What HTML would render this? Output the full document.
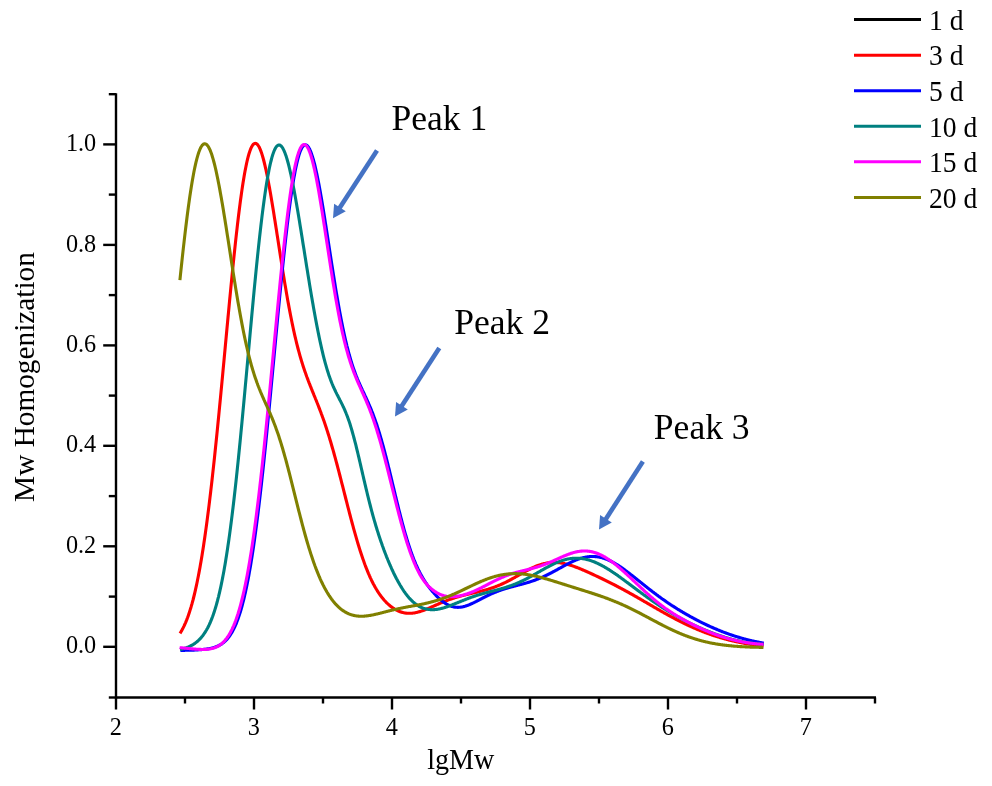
<!DOCTYPE html>
<html><head><meta charset="utf-8"><style>
html,body{margin:0;padding:0;background:#fff;width:992px;height:786px;overflow:hidden}
svg{display:block;will-change:transform}
text{font-family:"Liberation Serif",serif;fill:#000}
.tk{font-size:24.5px}
.lg{font-size:29px}
.pk{font-size:35.6px}
.tt{font-size:29px}
.yt{font-size:29.3px}
</style></head><body>
<svg width="992" height="786" viewBox="0 0 992 786">
<rect width="992" height="786" fill="#fff"/>
<line x1="116.0" y1="93.15999999999997" x2="116.0" y2="698.5" stroke="#000" stroke-width="2.4"/><line x1="115.0" y1="697.5" x2="876.0" y2="697.5" stroke="#000" stroke-width="2.4"/><line x1="108.8" y1="697.5" x2="116.0" y2="697.5" stroke="#000" stroke-width="2.4"/><line x1="103.2" y1="646.8" x2="116.0" y2="646.8" stroke="#000" stroke-width="2.4"/><line x1="108.8" y1="596.6" x2="116.0" y2="596.6" stroke="#000" stroke-width="2.4"/><line x1="103.2" y1="546.3" x2="116.0" y2="546.3" stroke="#000" stroke-width="2.4"/><line x1="108.8" y1="496.1" x2="116.0" y2="496.1" stroke="#000" stroke-width="2.4"/><line x1="103.2" y1="445.8" x2="116.0" y2="445.8" stroke="#000" stroke-width="2.4"/><line x1="108.8" y1="395.6" x2="116.0" y2="395.6" stroke="#000" stroke-width="2.4"/><line x1="103.2" y1="345.4" x2="116.0" y2="345.4" stroke="#000" stroke-width="2.4"/><line x1="108.8" y1="295.1" x2="116.0" y2="295.1" stroke="#000" stroke-width="2.4"/><line x1="103.2" y1="244.9" x2="116.0" y2="244.9" stroke="#000" stroke-width="2.4"/><line x1="108.8" y1="194.6" x2="116.0" y2="194.6" stroke="#000" stroke-width="2.4"/><line x1="103.2" y1="144.4" x2="116.0" y2="144.4" stroke="#000" stroke-width="2.4"/><line x1="108.8" y1="94.2" x2="116.0" y2="94.2" stroke="#000" stroke-width="2.4"/><line x1="116.0" y1="697.5" x2="116.0" y2="709.5" stroke="#000" stroke-width="2.4"/><line x1="185.0" y1="697.5" x2="185.0" y2="703.5" stroke="#000" stroke-width="2.4"/><line x1="254.0" y1="697.5" x2="254.0" y2="709.5" stroke="#000" stroke-width="2.4"/><line x1="323.0" y1="697.5" x2="323.0" y2="703.5" stroke="#000" stroke-width="2.4"/><line x1="392.0" y1="697.5" x2="392.0" y2="709.5" stroke="#000" stroke-width="2.4"/><line x1="461.0" y1="697.5" x2="461.0" y2="703.5" stroke="#000" stroke-width="2.4"/><line x1="530.0" y1="697.5" x2="530.0" y2="709.5" stroke="#000" stroke-width="2.4"/><line x1="599.0" y1="697.5" x2="599.0" y2="703.5" stroke="#000" stroke-width="2.4"/><line x1="668.0" y1="697.5" x2="668.0" y2="709.5" stroke="#000" stroke-width="2.4"/><line x1="737.0" y1="697.5" x2="737.0" y2="703.5" stroke="#000" stroke-width="2.4"/><line x1="806.0" y1="697.5" x2="806.0" y2="709.5" stroke="#000" stroke-width="2.4"/><line x1="875.0" y1="697.5" x2="875.0" y2="703.5" stroke="#000" stroke-width="2.4"/>
<text transform="translate(96.2,653.4) scale(0.99,1.0)" text-anchor="end" class="tk">0.0</text><text transform="translate(96.2,552.9) scale(0.99,1.0)" text-anchor="end" class="tk">0.2</text><text transform="translate(96.2,452.4) scale(0.99,1.0)" text-anchor="end" class="tk">0.4</text><text transform="translate(96.2,352.0) scale(0.99,1.0)" text-anchor="end" class="tk">0.6</text><text transform="translate(96.2,251.5) scale(0.99,1.0)" text-anchor="end" class="tk">0.8</text><text transform="translate(96.2,151.0) scale(0.99,1.0)" text-anchor="end" class="tk">1.0</text><text transform="translate(115.8,735.3) scale(0.99,1.0)" text-anchor="middle" class="tk">2</text><text transform="translate(253.8,735.3) scale(0.99,1.0)" text-anchor="middle" class="tk">3</text><text transform="translate(391.8,735.3) scale(0.99,1.0)" text-anchor="middle" class="tk">4</text><text transform="translate(529.8,735.3) scale(0.99,1.0)" text-anchor="middle" class="tk">5</text><text transform="translate(667.8,735.3) scale(0.99,1.0)" text-anchor="middle" class="tk">6</text><text transform="translate(805.8,735.3) scale(0.99,1.0)" text-anchor="middle" class="tk">7</text>
<path d="M180.0,633.4 L180.5,632.6 L181.0,631.7 L181.5,630.9 L182.0,630.0 L182.5,629.1 L183.0,628.1 L183.5,627.1 L184.0,626.1 L184.5,625.0 L185.0,623.9 L185.5,622.8 L186.0,621.6 L186.5,620.4 L187.0,619.1 L187.5,617.8 L188.0,616.4 L188.5,615.0 L189.0,613.5 L189.5,612.0 L190.0,610.4 L190.5,608.8 L191.0,607.2 L191.5,605.4 L192.0,603.7 L192.5,601.8 L193.0,600.0 L193.5,598.0 L194.0,596.0 L194.5,594.0 L195.0,591.8 L195.5,589.7 L196.0,587.4 L196.5,585.1 L197.0,582.7 L197.5,580.3 L198.0,577.8 L198.5,575.3 L199.0,572.6 L199.5,569.9 L200.0,567.2 L200.5,564.3 L201.0,561.4 L201.5,558.5 L202.0,555.4 L202.5,552.3 L203.0,549.2 L203.5,545.9 L204.0,542.6 L204.5,539.2 L205.0,535.7 L205.5,532.2 L206.0,528.6 L206.5,525.0 L207.0,521.2 L207.5,517.4 L208.0,513.5 L208.5,509.6 L209.0,505.6 L209.5,501.5 L210.0,497.4 L210.5,493.2 L211.0,488.9 L211.5,484.6 L212.0,480.2 L212.5,475.7 L213.0,471.2 L213.5,466.6 L214.0,462.0 L214.5,457.3 L215.0,452.5 L215.5,447.7 L216.0,442.9 L216.5,438.0 L217.0,433.1 L217.5,428.1 L218.0,423.0 L218.5,418.0 L219.0,412.9 L219.5,407.7 L220.0,402.5 L220.5,397.3 L221.0,392.1 L221.5,386.8 L222.0,381.6 L222.5,376.3 L223.0,370.9 L223.5,365.6 L224.0,360.3 L224.5,354.9 L225.0,349.6 L225.5,344.2 L226.0,338.9 L226.5,333.5 L227.0,328.2 L227.5,322.9 L228.0,317.5 L228.5,312.3 L229.0,307.0 L229.5,301.7 L230.0,296.5 L230.5,291.4 L231.0,286.2 L231.5,281.1 L232.0,276.1 L232.5,271.1 L233.0,266.1 L233.5,261.2 L234.0,256.4 L234.5,251.6 L235.0,246.9 L235.5,242.2 L236.0,237.7 L236.5,233.2 L237.0,228.8 L237.5,224.4 L238.0,220.2 L238.5,216.0 L239.0,212.0 L239.5,208.0 L240.0,204.1 L240.5,200.3 L241.0,196.7 L241.5,193.1 L242.0,189.6 L242.5,186.3 L243.0,183.1 L243.5,179.9 L244.0,176.9 L244.5,174.1 L245.0,171.3 L245.5,168.7 L246.0,166.2 L246.5,163.8 L247.0,161.5 L247.5,159.4 L248.0,157.4 L248.5,155.5 L249.0,153.8 L249.5,152.2 L250.0,150.7 L250.5,149.4 L251.0,148.2 L251.5,147.1 L252.0,146.2 L252.5,145.4 L253.0,144.7 L253.5,144.2 L254.0,143.8 L254.5,143.5 L255.0,143.4 L255.5,143.4 L256.0,143.5 L256.5,143.7 L257.0,144.1 L257.5,144.6 L258.0,145.2 L258.5,146.0 L259.0,146.8 L259.5,147.8 L260.0,148.9 L260.5,150.1 L261.0,151.4 L261.5,152.8 L262.0,154.4 L262.5,156.0 L263.0,157.7 L263.5,159.5 L264.0,161.5 L264.5,163.5 L265.0,165.6 L265.5,167.8 L266.0,170.0 L266.5,172.4 L267.0,174.8 L267.5,177.3 L268.0,179.9 L268.5,182.5 L269.0,185.2 L269.5,187.9 L270.0,190.7 L270.5,193.6 L271.0,196.5 L271.5,199.4 L272.0,202.4 L272.5,205.5 L273.0,208.5 L273.5,211.6 L274.0,214.7 L274.5,217.9 L275.0,221.0 L275.5,224.2 L276.0,227.4 L276.5,230.6 L277.0,233.9 L277.5,237.1 L278.0,240.3 L278.5,243.6 L279.0,246.8 L279.5,250.0 L280.0,253.2 L280.5,256.4 L281.0,259.6 L281.5,262.8 L282.0,265.9 L282.5,269.1 L283.0,272.2 L283.5,275.3 L284.0,278.3 L284.5,281.4 L285.0,284.4 L285.5,287.3 L286.0,290.3 L286.5,293.2 L287.0,296.0 L287.5,298.9 L288.0,301.7 L288.5,304.4 L289.0,307.1 L289.5,309.8 L290.0,312.4 L290.5,315.0 L291.0,317.5 L291.5,320.0 L292.0,322.5 L292.5,324.9 L293.0,327.3 L293.5,329.6 L294.0,331.8 L294.5,334.1 L295.0,336.3 L295.5,338.4 L296.0,340.5 L296.5,342.6 L297.0,344.6 L297.5,346.5 L298.0,348.5 L298.5,350.4 L299.0,352.2 L299.5,354.0 L300.0,355.8 L300.5,357.5 L301.0,359.2 L301.5,360.9 L302.0,362.5 L302.5,364.1 L303.0,365.7 L303.5,367.2 L304.0,368.7 L304.5,370.2 L305.0,371.7 L305.5,373.1 L306.0,374.5 L306.5,375.9 L307.0,377.3 L307.5,378.6 L308.0,379.9 L308.5,381.3 L309.0,382.6 L309.5,383.8 L310.0,385.1 L310.5,386.4 L311.0,387.6 L311.5,388.9 L312.0,390.1 L312.5,391.4 L313.0,392.6 L313.5,393.8 L314.0,395.1 L314.5,396.3 L315.0,397.5 L315.5,398.8 L316.0,400.0 L316.5,401.2 L317.0,402.5 L317.5,403.7 L318.0,405.0 L318.5,406.3 L319.0,407.6 L319.5,408.9 L320.0,410.2 L320.5,411.5 L321.0,412.8 L321.5,414.2 L322.0,415.5 L322.5,416.9 L323.0,418.3 L323.5,419.7 L324.0,421.1 L324.5,422.6 L325.0,424.0 L325.5,425.5 L326.0,427.0 L326.5,428.5 L327.0,430.1 L327.5,431.6 L328.0,433.2 L328.5,434.8 L329.0,436.4 L329.5,438.0 L330.0,439.7 L330.5,441.3 L331.0,443.0 L331.5,444.7 L332.0,446.5 L332.5,448.2 L333.0,449.9 L333.5,451.7 L334.0,453.5 L334.5,455.3 L335.0,457.1 L335.5,458.9 L336.0,460.8 L336.5,462.6 L337.0,464.5 L337.5,466.4 L338.0,468.3 L338.5,470.2 L339.0,472.1 L339.5,474.0 L340.0,476.0 L340.5,477.9 L341.0,479.9 L341.5,481.8 L342.0,483.8 L342.5,485.7 L343.0,487.7 L343.5,489.6 L344.0,491.6 L344.5,493.6 L345.0,495.5 L345.5,497.5 L346.0,499.5 L346.5,501.4 L347.0,503.4 L347.5,505.3 L348.0,507.3 L348.5,509.2 L349.0,511.2 L349.5,513.1 L350.0,515.0 L350.5,516.9 L351.0,518.8 L351.5,520.7 L352.0,522.5 L352.5,524.4 L353.0,526.2 L353.5,528.1 L354.0,529.9 L354.5,531.7 L355.0,533.4 L355.5,535.2 L356.0,536.9 L356.5,538.7 L357.0,540.4 L357.5,542.1 L358.0,543.7 L358.5,545.4 L359.0,547.0 L359.5,548.6 L360.0,550.2 L360.5,551.7 L361.0,553.3 L361.5,554.8 L362.0,556.3 L362.5,557.8 L363.0,559.2 L363.5,560.6 L364.0,562.0 L364.5,563.4 L365.0,564.8 L365.5,566.1 L366.0,567.4 L366.5,568.7 L367.0,569.9 L367.5,571.2 L368.0,572.4 L368.5,573.6 L369.0,574.7 L369.5,575.9 L370.0,577.0 L370.5,578.1 L371.0,579.1 L371.5,580.2 L372.0,581.2 L372.5,582.2 L373.0,583.2 L373.5,584.2 L374.0,585.1 L374.5,586.0 L375.0,586.9 L375.5,587.8 L376.0,588.6 L376.5,589.5 L377.0,590.3 L377.5,591.1 L378.0,591.9 L378.5,592.6 L379.0,593.4 L379.5,594.1 L380.0,594.8 L380.5,595.5 L381.0,596.2 L381.5,596.8 L382.0,597.5 L382.5,598.1 L383.0,598.7 L383.5,599.3 L384.0,599.9 L384.5,600.5 L385.0,601.0 L385.5,601.5 L386.0,602.1 L386.5,602.6 L387.0,603.1 L387.5,603.5 L388.0,604.0 L388.5,604.5 L389.0,604.9 L389.5,605.3 L390.0,605.8 L390.5,606.2 L391.0,606.6 L391.5,606.9 L392.0,607.3 L392.5,607.7 L393.0,608.0 L393.5,608.3 L394.0,608.7 L394.5,609.0 L395.0,609.3 L395.5,609.6 L396.0,609.8 L396.5,610.1 L397.0,610.4 L397.5,610.6 L398.0,610.8 L398.5,611.1 L399.0,611.3 L399.5,611.5 L400.0,611.7 L400.5,611.8 L401.0,612.0 L401.5,612.2 L402.0,612.3 L402.5,612.5 L403.0,612.6 L403.5,612.7 L404.0,612.8 L404.5,612.9 L405.0,613.0 L405.5,613.1 L406.0,613.1 L406.5,613.2 L407.0,613.2 L407.5,613.3 L408.0,613.3 L408.5,613.3 L409.0,613.3 L409.5,613.3 L410.0,613.3 L410.5,613.3 L411.0,613.3 L411.5,613.3 L412.0,613.2 L412.5,613.2 L413.0,613.1 L413.5,613.0 L414.0,613.0 L414.5,612.9 L415.0,612.8 L415.5,612.7 L416.0,612.6 L416.5,612.5 L417.0,612.4 L417.5,612.2 L418.0,612.1 L418.5,612.0 L419.0,611.8 L419.5,611.7 L420.0,611.5 L420.5,611.4 L421.0,611.2 L421.5,611.1 L422.0,610.9 L422.5,610.7 L423.0,610.5 L423.5,610.3 L424.0,610.2 L424.5,610.0 L425.0,609.8 L425.5,609.6 L426.0,609.4 L426.5,609.2 L427.0,609.0 L427.5,608.8 L428.0,608.6 L428.5,608.3 L429.0,608.1 L429.5,607.9 L430.0,607.7 L430.5,607.5 L431.0,607.3 L431.5,607.0 L432.0,606.8 L432.5,606.6 L433.0,606.4 L433.5,606.2 L434.0,605.9 L434.5,605.7 L435.0,605.5 L435.5,605.3 L436.0,605.0 L436.5,604.8 L437.0,604.6 L437.5,604.4 L438.0,604.2 L438.5,604.0 L439.0,603.7 L439.5,603.5 L440.0,603.3 L440.5,603.1 L441.0,602.9 L441.5,602.7 L442.0,602.5 L442.5,602.3 L443.0,602.1 L443.5,601.8 L444.0,601.6 L444.5,601.4 L445.0,601.3 L445.5,601.1 L446.0,600.9 L446.5,600.7 L447.0,600.5 L447.5,600.3 L448.0,600.1 L448.5,599.9 L449.0,599.7 L449.5,599.6 L450.0,599.4 L450.5,599.2 L451.0,599.0 L451.5,598.9 L452.0,598.7 L452.5,598.5 L453.0,598.4 L453.5,598.2 L454.0,598.0 L454.5,597.9 L455.0,597.7 L455.5,597.6 L456.0,597.4 L456.5,597.3 L457.0,597.1 L457.5,597.0 L458.0,596.8 L458.5,596.7 L459.0,596.5 L459.5,596.4 L460.0,596.3 L460.5,596.1 L461.0,596.0 L461.5,595.9 L462.0,595.7 L462.5,595.6 L463.0,595.5 L463.5,595.4 L464.0,595.2 L464.5,595.1 L465.0,595.0 L465.5,594.9 L466.0,594.7 L466.5,594.6 L467.0,594.5 L467.5,594.4 L468.0,594.3 L468.5,594.1 L469.0,594.0 L469.5,593.9 L470.0,593.8 L470.5,593.7 L471.0,593.6 L471.5,593.4 L472.0,593.3 L472.5,593.2 L473.0,593.1 L473.5,593.0 L474.0,592.9 L474.5,592.8 L475.0,592.6 L475.5,592.5 L476.0,592.4 L476.5,592.3 L477.0,592.2 L477.5,592.0 L478.0,591.9 L478.5,591.8 L479.0,591.7 L479.5,591.6 L480.0,591.4 L480.5,591.3 L481.0,591.2 L481.5,591.1 L482.0,590.9 L482.5,590.8 L483.0,590.7 L483.5,590.5 L484.0,590.4 L484.5,590.3 L485.0,590.1 L485.5,590.0 L486.0,589.9 L486.5,589.7 L487.0,589.6 L487.5,589.4 L488.0,589.3 L488.5,589.1 L489.0,589.0 L489.5,588.8 L490.0,588.6 L490.5,588.5 L491.0,588.3 L491.5,588.1 L492.0,588.0 L492.5,587.8 L493.0,587.6 L493.5,587.5 L494.0,587.3 L494.5,587.1 L495.0,586.9 L495.5,586.7 L496.0,586.5 L496.5,586.3 L497.0,586.1 L497.5,585.9 L498.0,585.7 L498.5,585.5 L499.0,585.3 L499.5,585.1 L500.0,584.9 L500.5,584.7 L501.0,584.5 L501.5,584.2 L502.0,584.0 L502.5,583.8 L503.0,583.5 L503.5,583.3 L504.0,583.1 L504.5,582.8 L505.0,582.6 L505.5,582.4 L506.0,582.1 L506.5,581.9 L507.0,581.6 L507.5,581.3 L508.0,581.1 L508.5,580.8 L509.0,580.6 L509.5,580.3 L510.0,580.0 L510.5,579.8 L511.0,579.5 L511.5,579.2 L512.0,579.0 L512.5,578.7 L513.0,578.4 L513.5,578.1 L514.0,577.9 L514.5,577.6 L515.0,577.3 L515.5,577.0 L516.0,576.7 L516.5,576.4 L517.0,576.2 L517.5,575.9 L518.0,575.6 L518.5,575.3 L519.0,575.0 L519.5,574.7 L520.0,574.5 L520.5,574.2 L521.0,573.9 L521.5,573.6 L522.0,573.3 L522.5,573.0 L523.0,572.8 L523.5,572.5 L524.0,572.2 L524.5,571.9 L525.0,571.6 L525.5,571.4 L526.0,571.1 L526.5,570.8 L527.0,570.6 L527.5,570.3 L528.0,570.0 L528.5,569.8 L529.0,569.5 L529.5,569.3 L530.0,569.0 L530.5,568.8 L531.0,568.5 L531.5,568.3 L532.0,568.0 L532.5,567.8 L533.0,567.6 L533.5,567.3 L534.0,567.1 L534.5,566.9 L535.0,566.7 L535.5,566.5 L536.0,566.2 L536.5,566.0 L537.0,565.8 L537.5,565.7 L538.0,565.5 L538.5,565.3 L539.0,565.1 L539.5,564.9 L540.0,564.8 L540.5,564.6 L541.0,564.4 L541.5,564.3 L542.0,564.1 L542.5,564.0 L543.0,563.9 L543.5,563.7 L544.0,563.6 L544.5,563.5 L545.0,563.4 L545.5,563.3 L546.0,563.2 L546.5,563.1 L547.0,563.0 L547.5,562.9 L548.0,562.9 L548.5,562.8 L549.0,562.7 L549.5,562.7 L550.0,562.6 L550.5,562.6 L551.0,562.5 L551.5,562.5 L552.0,562.5 L552.5,562.5 L553.0,562.4 L553.5,562.4 L554.0,562.4 L554.5,562.4 L555.0,562.4 L555.5,562.5 L556.0,562.5 L556.5,562.5 L557.0,562.5 L557.5,562.6 L558.0,562.6 L558.5,562.7 L559.0,562.7 L559.5,562.8 L560.0,562.8 L560.5,562.9 L561.0,563.0 L561.5,563.1 L562.0,563.1 L562.5,563.2 L563.0,563.3 L563.5,563.4 L564.0,563.5 L564.5,563.6 L565.0,563.8 L565.5,563.9 L566.0,564.0 L566.5,564.1 L567.0,564.2 L567.5,564.4 L568.0,564.5 L568.5,564.7 L569.0,564.8 L569.5,564.9 L570.0,565.1 L570.5,565.3 L571.0,565.4 L571.5,565.6 L572.0,565.7 L572.5,565.9 L573.0,566.1 L573.5,566.2 L574.0,566.4 L574.5,566.6 L575.0,566.8 L575.5,567.0 L576.0,567.2 L576.5,567.3 L577.0,567.5 L577.5,567.7 L578.0,567.9 L578.5,568.1 L579.0,568.3 L579.5,568.5 L580.0,568.7 L580.5,568.9 L581.0,569.1 L581.5,569.3 L582.0,569.6 L582.5,569.8 L583.0,570.0 L583.5,570.2 L584.0,570.4 L584.5,570.6 L585.0,570.8 L585.5,571.1 L586.0,571.3 L586.5,571.5 L587.0,571.7 L587.5,571.9 L588.0,572.2 L588.5,572.4 L589.0,572.6 L589.5,572.8 L590.0,573.1 L590.5,573.3 L591.0,573.5 L591.5,573.8 L592.0,574.0 L592.5,574.2 L593.0,574.5 L593.5,574.7 L594.0,574.9 L594.5,575.2 L595.0,575.4 L595.5,575.6 L596.0,575.9 L596.5,576.1 L597.0,576.3 L597.5,576.6 L598.0,576.8 L598.5,577.0 L599.0,577.3 L599.5,577.5 L600.0,577.8 L600.5,578.0 L601.0,578.2 L601.5,578.5 L602.0,578.7 L602.5,579.0 L603.0,579.2 L603.5,579.5 L604.0,579.7 L604.5,579.9 L605.0,580.2 L605.5,580.4 L606.0,580.7 L606.5,580.9 L607.0,581.2 L607.5,581.4 L608.0,581.7 L608.5,581.9 L609.0,582.2 L609.5,582.4 L610.0,582.7 L610.5,582.9 L611.0,583.2 L611.5,583.4 L612.0,583.7 L612.5,583.9 L613.0,584.2 L613.5,584.4 L614.0,584.7 L614.5,585.0 L615.0,585.2 L615.5,585.5 L616.0,585.7 L616.5,586.0 L617.0,586.3 L617.5,586.5 L618.0,586.8 L618.5,587.0 L619.0,587.3 L619.5,587.6 L620.0,587.8 L620.5,588.1 L621.0,588.4 L621.5,588.6 L622.0,588.9 L622.5,589.2 L623.0,589.4 L623.5,589.7 L624.0,590.0 L624.5,590.3 L625.0,590.5 L625.5,590.8 L626.0,591.1 L626.5,591.3 L627.0,591.6 L627.5,591.9 L628.0,592.2 L628.5,592.5 L629.0,592.7 L629.5,593.0 L630.0,593.3 L630.5,593.6 L631.0,593.8 L631.5,594.1 L632.0,594.4 L632.5,594.7 L633.0,595.0 L633.5,595.2 L634.0,595.5 L634.5,595.8 L635.0,596.1 L635.5,596.4 L636.0,596.7 L636.5,597.0 L637.0,597.2 L637.5,597.5 L638.0,597.8 L638.5,598.1 L639.0,598.4 L639.5,598.7 L640.0,599.0 L640.5,599.2 L641.0,599.5 L641.5,599.8 L642.0,600.1 L642.5,600.4 L643.0,600.7 L643.5,601.0 L644.0,601.3 L644.5,601.6 L645.0,601.9 L645.5,602.1 L646.0,602.4 L646.5,602.7 L647.0,603.0 L647.5,603.3 L648.0,603.6 L648.5,603.9 L649.0,604.2 L649.5,604.5 L650.0,604.8 L650.5,605.0 L651.0,605.3 L651.5,605.6 L652.0,605.9 L652.5,606.2 L653.0,606.5 L653.5,606.8 L654.0,607.1 L654.5,607.4 L655.0,607.7 L655.5,607.9 L656.0,608.2 L656.5,608.5 L657.0,608.8 L657.5,609.1 L658.0,609.4 L658.5,609.7 L659.0,609.9 L659.5,610.2 L660.0,610.5 L660.5,610.8 L661.0,611.1 L661.5,611.4 L662.0,611.7 L662.5,611.9 L663.0,612.2 L663.5,612.5 L664.0,612.8 L664.5,613.1 L665.0,613.3 L665.5,613.6 L666.0,613.9 L666.5,614.2 L667.0,614.5 L667.5,614.7 L668.0,615.0 L668.5,615.3 L669.0,615.6 L669.5,615.8 L670.0,616.1 L670.5,616.4 L671.0,616.6 L671.5,616.9 L672.0,617.2 L672.5,617.4 L673.0,617.7 L673.5,618.0 L674.0,618.2 L674.5,618.5 L675.0,618.8 L675.5,619.0 L676.0,619.3 L676.5,619.6 L677.0,619.8 L677.5,620.1 L678.0,620.3 L678.5,620.6 L679.0,620.8 L679.5,621.1 L680.0,621.3 L680.5,621.6 L681.0,621.9 L681.5,622.1 L682.0,622.4 L682.5,622.6 L683.0,622.8 L683.5,623.1 L684.0,623.3 L684.5,623.6 L685.0,623.8 L685.5,624.1 L686.0,624.3 L686.5,624.5 L687.0,624.8 L687.5,625.0 L688.0,625.2 L688.5,625.5 L689.0,625.7 L689.5,625.9 L690.0,626.2 L690.5,626.4 L691.0,626.6 L691.5,626.9 L692.0,627.1 L692.5,627.3 L693.0,627.5 L693.5,627.7 L694.0,628.0 L694.5,628.2 L695.0,628.4 L695.5,628.6 L696.0,628.8 L696.5,629.0 L697.0,629.3 L697.5,629.5 L698.0,629.7 L698.5,629.9 L699.0,630.1 L699.5,630.3 L700.0,630.5 L700.5,630.7 L701.0,630.9 L701.5,631.1 L702.0,631.3 L702.5,631.5 L703.0,631.7 L703.5,631.9 L704.0,632.1 L704.5,632.3 L705.0,632.5 L705.5,632.7 L706.0,632.8 L706.5,633.0 L707.0,633.2 L707.5,633.4 L708.0,633.6 L708.5,633.8 L709.0,633.9 L709.5,634.1 L710.0,634.3 L710.5,634.5 L711.0,634.6 L711.5,634.8 L712.0,635.0 L712.5,635.2 L713.0,635.3 L713.5,635.5 L714.0,635.7 L714.5,635.8 L715.0,636.0 L715.5,636.1 L716.0,636.3 L716.5,636.5 L717.0,636.6 L717.5,636.8 L718.0,636.9 L718.5,637.1 L719.0,637.2 L719.5,637.4 L720.0,637.5 L720.5,637.7 L721.0,637.8 L721.5,638.0 L722.0,638.1 L722.5,638.3 L723.0,638.4 L723.5,638.6 L724.0,638.7 L724.5,638.8 L725.0,639.0 L725.5,639.1 L726.0,639.2 L726.5,639.4 L727.0,639.5 L727.5,639.6 L728.0,639.8 L728.5,639.9 L729.0,640.0 L729.5,640.2 L730.0,640.3 L730.5,640.4 L731.0,640.5 L731.5,640.6 L732.0,640.8 L732.5,640.9 L733.0,641.0 L733.5,641.1 L734.0,641.2 L734.5,641.3 L735.0,641.5 L735.5,641.6 L736.0,641.7 L736.5,641.8 L737.0,641.9 L737.5,642.0 L738.0,642.1 L738.5,642.2 L739.0,642.3 L739.5,642.4 L740.0,642.5 L740.5,642.6 L741.0,642.7 L741.5,642.8 L742.0,642.9 L742.5,643.0 L743.0,643.1 L743.5,643.2 L744.0,643.3 L744.5,643.4 L745.0,643.5 L745.5,643.6 L746.0,643.7 L746.5,643.8 L747.0,643.8 L747.5,643.9 L748.0,644.0 L748.5,644.1 L749.0,644.2 L749.5,644.3 L750.0,644.3 L750.5,644.4 L751.0,644.5 L751.5,644.6 L752.0,644.7 L752.5,644.7 L753.0,644.8 L753.5,644.9 L754.0,645.0 L754.5,645.0 L755.0,645.1 L755.5,645.2 L756.0,645.2 L756.5,645.3 L757.0,645.4 L757.5,645.4 L758.0,645.5 L758.5,645.6 L759.0,645.6 L759.5,645.7 L760.0,645.8 L760.5,645.8 L761.0,645.9 L761.5,646.0 L762.0,646.0 L762.5,646.1 L763.0,646.1 L763.5,646.2" fill="none" stroke="#ff0000" stroke-width="3.1" stroke-linejoin="round" stroke-linecap="butt"/><path transform="translate(0.4,0)" d="M180.0,650.4 L180.5,650.4 L181.0,650.4 L181.5,650.4 L182.0,650.4 L182.5,650.4 L183.0,650.4 L183.5,650.4 L184.0,650.4 L184.5,650.3 L185.0,650.3 L185.5,650.3 L186.0,650.3 L186.5,650.3 L187.0,650.3 L187.5,650.3 L188.0,650.3 L188.5,650.3 L189.0,650.2 L189.5,650.2 L190.0,650.2 L190.5,650.2 L191.0,650.2 L191.5,650.2 L192.0,650.1 L192.5,650.1 L193.0,650.1 L193.5,650.1 L194.0,650.1 L194.5,650.0 L195.0,650.0 L195.5,650.0 L196.0,650.0 L196.5,649.9 L197.0,649.9 L197.5,649.9 L198.0,649.8 L198.5,649.8 L199.0,649.8 L199.5,649.7 L200.0,649.7 L200.5,649.7 L201.0,649.6 L201.5,649.6 L202.0,649.5 L202.5,649.5 L203.0,649.4 L203.5,649.4 L204.0,649.3 L204.5,649.3 L205.0,649.2 L205.5,649.2 L206.0,649.1 L206.5,649.0 L207.0,648.9 L207.5,648.9 L208.0,648.8 L208.5,648.7 L209.0,648.6 L209.5,648.5 L210.0,648.4 L210.5,648.3 L211.0,648.2 L211.5,648.1 L212.0,647.9 L212.5,647.8 L213.0,647.7 L213.5,647.5 L214.0,647.4 L214.5,647.2 L215.0,647.0 L215.5,646.8 L216.0,646.7 L216.5,646.5 L217.0,646.2 L217.5,646.0 L218.0,645.8 L218.5,645.5 L219.0,645.3 L219.5,645.0 L220.0,644.7 L220.5,644.4 L221.0,644.1 L221.5,643.8 L222.0,643.4 L222.5,643.0 L223.0,642.7 L223.5,642.2 L224.0,641.8 L224.5,641.4 L225.0,640.9 L225.5,640.4 L226.0,639.9 L226.5,639.4 L227.0,638.8 L227.5,638.2 L228.0,637.6 L228.5,636.9 L229.0,636.3 L229.5,635.5 L230.0,634.8 L230.5,634.0 L231.0,633.2 L231.5,632.4 L232.0,631.5 L232.5,630.6 L233.0,629.6 L233.5,628.7 L234.0,627.6 L234.5,626.6 L235.0,625.4 L235.5,624.3 L236.0,623.1 L236.5,621.8 L237.0,620.5 L237.5,619.2 L238.0,617.8 L238.5,616.3 L239.0,614.8 L239.5,613.3 L240.0,611.7 L240.5,610.0 L241.0,608.3 L241.5,606.5 L242.0,604.6 L242.5,602.7 L243.0,600.8 L243.5,598.8 L244.0,596.7 L244.5,594.5 L245.0,592.3 L245.5,590.0 L246.0,587.7 L246.5,585.2 L247.0,582.8 L247.5,580.2 L248.0,577.6 L248.5,574.9 L249.0,572.1 L249.5,569.3 L250.0,566.4 L250.5,563.4 L251.0,560.3 L251.5,557.2 L252.0,554.0 L252.5,550.7 L253.0,547.4 L253.5,544.0 L254.0,540.5 L254.5,536.9 L255.0,533.3 L255.5,529.6 L256.0,525.8 L256.5,521.9 L257.0,518.0 L257.5,514.0 L258.0,509.9 L258.5,505.8 L259.0,501.6 L259.5,497.4 L260.0,493.0 L260.5,488.6 L261.0,484.2 L261.5,479.7 L262.0,475.1 L262.5,470.5 L263.0,465.8 L263.5,461.0 L264.0,456.2 L264.5,451.4 L265.0,446.5 L265.5,441.5 L266.0,436.5 L266.5,431.5 L267.0,426.4 L267.5,421.3 L268.0,416.2 L268.5,411.0 L269.0,405.8 L269.5,400.6 L270.0,395.3 L270.5,390.0 L271.0,384.7 L271.5,379.4 L272.0,374.1 L272.5,368.7 L273.0,363.4 L273.5,358.0 L274.0,352.7 L274.5,347.3 L275.0,342.0 L275.5,336.6 L276.0,331.3 L276.5,326.0 L277.0,320.7 L277.5,315.4 L278.0,310.2 L278.5,305.0 L279.0,299.8 L279.5,294.6 L280.0,289.5 L280.5,284.5 L281.0,279.4 L281.5,274.5 L282.0,269.6 L282.5,264.7 L283.0,259.9 L283.5,255.1 L284.0,250.5 L284.5,245.9 L285.0,241.3 L285.5,236.9 L286.0,232.5 L286.5,228.2 L287.0,223.9 L287.5,219.8 L288.0,215.8 L288.5,211.8 L289.0,208.0 L289.5,204.2 L290.0,200.5 L290.5,197.0 L291.0,193.5 L291.5,190.2 L292.0,186.9 L292.5,183.8 L293.0,180.8 L293.5,177.8 L294.0,175.1 L294.5,172.4 L295.0,169.8 L295.5,167.4 L296.0,165.1 L296.5,162.9 L297.0,160.8 L297.5,158.9 L298.0,157.0 L298.5,155.3 L299.0,153.8 L299.5,152.3 L300.0,151.0 L300.5,149.8 L301.0,148.8 L301.5,147.8 L302.0,147.0 L302.5,146.4 L303.0,145.8 L303.5,145.4 L304.0,145.1 L304.5,144.9 L305.0,144.9 L305.5,144.9 L306.0,145.1 L306.5,145.4 L307.0,145.9 L307.5,146.4 L308.0,147.1 L308.5,147.9 L309.0,148.8 L309.5,149.8 L310.0,150.9 L310.5,152.1 L311.0,153.5 L311.5,154.9 L312.0,156.4 L312.5,158.1 L313.0,159.8 L313.5,161.6 L314.0,163.5 L314.5,165.5 L315.0,167.6 L315.5,169.8 L316.0,172.1 L316.5,174.4 L317.0,176.8 L317.5,179.3 L318.0,181.8 L318.5,184.4 L319.0,187.1 L319.5,189.8 L320.0,192.6 L320.5,195.5 L321.0,198.3 L321.5,201.3 L322.0,204.3 L322.5,207.3 L323.0,210.3 L323.5,213.4 L324.0,216.6 L324.5,219.7 L325.0,222.9 L325.5,226.1 L326.0,229.3 L326.5,232.5 L327.0,235.7 L327.5,239.0 L328.0,242.2 L328.5,245.5 L329.0,248.8 L329.5,252.0 L330.0,255.3 L330.5,258.5 L331.0,261.7 L331.5,264.9 L332.0,268.1 L332.5,271.3 L333.0,274.5 L333.5,277.6 L334.0,280.7 L334.5,283.8 L335.0,286.9 L335.5,289.9 L336.0,292.9 L336.5,295.8 L337.0,298.7 L337.5,301.6 L338.0,304.5 L338.5,307.3 L339.0,310.0 L339.5,312.7 L340.0,315.4 L340.5,318.0 L341.0,320.6 L341.5,323.1 L342.0,325.6 L342.5,328.0 L343.0,330.4 L343.5,332.8 L344.0,335.1 L344.5,337.3 L345.0,339.5 L345.5,341.6 L346.0,343.7 L346.5,345.8 L347.0,347.7 L347.5,349.7 L348.0,351.6 L348.5,353.4 L349.0,355.3 L349.5,357.0 L350.0,358.7 L350.5,360.4 L351.0,362.0 L351.5,363.6 L352.0,365.2 L352.5,366.7 L353.0,368.2 L353.5,369.6 L354.0,371.0 L354.5,372.4 L355.0,373.7 L355.5,375.0 L356.0,376.3 L356.5,377.5 L357.0,378.8 L357.5,380.0 L358.0,381.2 L358.5,382.3 L359.0,383.5 L359.5,384.6 L360.0,385.7 L360.5,386.8 L361.0,387.9 L361.5,389.0 L362.0,390.1 L362.5,391.1 L363.0,392.2 L363.5,393.3 L364.0,394.3 L364.5,395.4 L365.0,396.5 L365.5,397.5 L366.0,398.6 L366.5,399.7 L367.0,400.8 L367.5,401.9 L368.0,403.0 L368.5,404.2 L369.0,405.3 L369.5,406.5 L370.0,407.7 L370.5,408.9 L371.0,410.1 L371.5,411.4 L372.0,412.6 L372.5,413.9 L373.0,415.2 L373.5,416.6 L374.0,417.9 L374.5,419.3 L375.0,420.7 L375.5,422.2 L376.0,423.6 L376.5,425.1 L377.0,426.7 L377.5,428.2 L378.0,429.8 L378.5,431.4 L379.0,433.0 L379.5,434.7 L380.0,436.4 L380.5,438.1 L381.0,439.8 L381.5,441.6 L382.0,443.4 L382.5,445.2 L383.0,447.0 L383.5,448.9 L384.0,450.7 L384.5,452.6 L385.0,454.6 L385.5,456.5 L386.0,458.5 L386.5,460.4 L387.0,462.4 L387.5,464.4 L388.0,466.5 L388.5,468.5 L389.0,470.5 L389.5,472.6 L390.0,474.7 L390.5,476.7 L391.0,478.8 L391.5,480.9 L392.0,483.0 L392.5,485.1 L393.0,487.1 L393.5,489.2 L394.0,491.3 L394.5,493.4 L395.0,495.5 L395.5,497.5 L396.0,499.6 L396.5,501.7 L397.0,503.7 L397.5,505.7 L398.0,507.8 L398.5,509.8 L399.0,511.7 L399.5,513.7 L400.0,515.7 L400.5,517.6 L401.0,519.5 L401.5,521.4 L402.0,523.3 L402.5,525.2 L403.0,527.0 L403.5,528.8 L404.0,530.6 L404.5,532.4 L405.0,534.1 L405.5,535.8 L406.0,537.5 L406.5,539.2 L407.0,540.8 L407.5,542.4 L408.0,544.0 L408.5,545.5 L409.0,547.0 L409.5,548.5 L410.0,550.0 L410.5,551.4 L411.0,552.8 L411.5,554.2 L412.0,555.6 L412.5,556.9 L413.0,558.2 L413.5,559.5 L414.0,560.7 L414.5,561.9 L415.0,563.1 L415.5,564.3 L416.0,565.4 L416.5,566.5 L417.0,567.6 L417.5,568.7 L418.0,569.7 L418.5,570.8 L419.0,571.8 L419.5,572.7 L420.0,573.7 L420.5,574.6 L421.0,575.5 L421.5,576.4 L422.0,577.2 L422.5,578.1 L423.0,578.9 L423.5,579.7 L424.0,580.5 L424.5,581.3 L425.0,582.1 L425.5,582.8 L426.0,583.5 L426.5,584.3 L427.0,585.0 L427.5,585.7 L428.0,586.3 L428.5,587.0 L429.0,587.7 L429.5,588.3 L430.0,589.0 L430.5,589.6 L431.0,590.2 L431.5,590.8 L432.0,591.4 L432.5,592.0 L433.0,592.5 L433.5,593.1 L434.0,593.7 L434.5,594.2 L435.0,594.7 L435.5,595.3 L436.0,595.8 L436.5,596.3 L437.0,596.8 L437.5,597.3 L438.0,597.8 L438.5,598.3 L439.0,598.7 L439.5,599.2 L440.0,599.6 L440.5,600.0 L441.0,600.5 L441.5,600.9 L442.0,601.3 L442.5,601.6 L443.0,602.0 L443.5,602.4 L444.0,602.7 L444.5,603.1 L445.0,603.4 L445.5,603.7 L446.0,604.0 L446.5,604.3 L447.0,604.6 L447.5,604.8 L448.0,605.1 L448.5,605.3 L449.0,605.5 L449.5,605.7 L450.0,605.9 L450.5,606.1 L451.0,606.3 L451.5,606.5 L452.0,606.6 L452.5,606.7 L453.0,606.9 L453.5,607.0 L454.0,607.1 L454.5,607.1 L455.0,607.2 L455.5,607.3 L456.0,607.3 L456.5,607.3 L457.0,607.3 L457.5,607.4 L458.0,607.3 L458.5,607.3 L459.0,607.3 L459.5,607.3 L460.0,607.2 L460.5,607.1 L461.0,607.1 L461.5,607.0 L462.0,606.9 L462.5,606.8 L463.0,606.7 L463.5,606.5 L464.0,606.4 L464.5,606.3 L465.0,606.1 L465.5,606.0 L466.0,605.8 L466.5,605.6 L467.0,605.5 L467.5,605.3 L468.0,605.1 L468.5,604.9 L469.0,604.7 L469.5,604.5 L470.0,604.2 L470.5,604.0 L471.0,603.8 L471.5,603.6 L472.0,603.3 L472.5,603.1 L473.0,602.9 L473.5,602.6 L474.0,602.4 L474.5,602.1 L475.0,601.9 L475.5,601.6 L476.0,601.4 L476.5,601.1 L477.0,600.8 L477.5,600.6 L478.0,600.3 L478.5,600.1 L479.0,599.8 L479.5,599.5 L480.0,599.3 L480.5,599.0 L481.0,598.8 L481.5,598.5 L482.0,598.2 L482.5,598.0 L483.0,597.7 L483.5,597.5 L484.0,597.2 L484.5,597.0 L485.0,596.7 L485.5,596.5 L486.0,596.2 L486.5,596.0 L487.0,595.7 L487.5,595.5 L488.0,595.2 L488.5,595.0 L489.0,594.8 L489.5,594.5 L490.0,594.3 L490.5,594.1 L491.0,593.9 L491.5,593.6 L492.0,593.4 L492.5,593.2 L493.0,593.0 L493.5,592.8 L494.0,592.6 L494.5,592.4 L495.0,592.2 L495.5,592.0 L496.0,591.8 L496.5,591.6 L497.0,591.4 L497.5,591.2 L498.0,591.0 L498.5,590.8 L499.0,590.6 L499.5,590.5 L500.0,590.3 L500.5,590.1 L501.0,589.9 L501.5,589.8 L502.0,589.6 L502.5,589.4 L503.0,589.3 L503.5,589.1 L504.0,589.0 L504.5,588.8 L505.0,588.6 L505.5,588.5 L506.0,588.3 L506.5,588.2 L507.0,588.0 L507.5,587.9 L508.0,587.8 L508.5,587.6 L509.0,587.5 L509.5,587.3 L510.0,587.2 L510.5,587.1 L511.0,586.9 L511.5,586.8 L512.0,586.7 L512.5,586.5 L513.0,586.4 L513.5,586.3 L514.0,586.1 L514.5,586.0 L515.0,585.9 L515.5,585.8 L516.0,585.6 L516.5,585.5 L517.0,585.4 L517.5,585.2 L518.0,585.1 L518.5,585.0 L519.0,584.8 L519.5,584.7 L520.0,584.6 L520.5,584.5 L521.0,584.3 L521.5,584.2 L522.0,584.1 L522.5,583.9 L523.0,583.8 L523.5,583.6 L524.0,583.5 L524.5,583.4 L525.0,583.2 L525.5,583.1 L526.0,582.9 L526.5,582.8 L527.0,582.6 L527.5,582.5 L528.0,582.3 L528.5,582.2 L529.0,582.0 L529.5,581.9 L530.0,581.7 L530.5,581.6 L531.0,581.4 L531.5,581.2 L532.0,581.1 L532.5,580.9 L533.0,580.7 L533.5,580.5 L534.0,580.4 L534.5,580.2 L535.0,580.0 L535.5,579.8 L536.0,579.6 L536.5,579.4 L537.0,579.2 L537.5,579.0 L538.0,578.8 L538.5,578.6 L539.0,578.4 L539.5,578.2 L540.0,578.0 L540.5,577.8 L541.0,577.6 L541.5,577.4 L542.0,577.1 L542.5,576.9 L543.0,576.7 L543.5,576.5 L544.0,576.2 L544.5,576.0 L545.0,575.8 L545.5,575.5 L546.0,575.3 L546.5,575.0 L547.0,574.8 L547.5,574.5 L548.0,574.3 L548.5,574.0 L549.0,573.8 L549.5,573.5 L550.0,573.3 L550.5,573.0 L551.0,572.8 L551.5,572.5 L552.0,572.2 L552.5,572.0 L553.0,571.7 L553.5,571.4 L554.0,571.2 L554.5,570.9 L555.0,570.6 L555.5,570.3 L556.0,570.1 L556.5,569.8 L557.0,569.5 L557.5,569.2 L558.0,569.0 L558.5,568.7 L559.0,568.4 L559.5,568.1 L560.0,567.9 L560.5,567.6 L561.0,567.3 L561.5,567.0 L562.0,566.8 L562.5,566.5 L563.0,566.2 L563.5,565.9 L564.0,565.7 L564.5,565.4 L565.0,565.1 L565.5,564.9 L566.0,564.6 L566.5,564.3 L567.0,564.1 L567.5,563.8 L568.0,563.6 L568.5,563.3 L569.0,563.1 L569.5,562.8 L570.0,562.6 L570.5,562.3 L571.0,562.1 L571.5,561.8 L572.0,561.6 L572.5,561.4 L573.0,561.2 L573.5,560.9 L574.0,560.7 L574.5,560.5 L575.0,560.3 L575.5,560.1 L576.0,559.9 L576.5,559.7 L577.0,559.5 L577.5,559.3 L578.0,559.1 L578.5,559.0 L579.0,558.8 L579.5,558.6 L580.0,558.5 L580.5,558.3 L581.0,558.2 L581.5,558.0 L582.0,557.9 L582.5,557.7 L583.0,557.6 L583.5,557.5 L584.0,557.4 L584.5,557.3 L585.0,557.2 L585.5,557.1 L586.0,557.0 L586.5,556.9 L587.0,556.8 L587.5,556.8 L588.0,556.7 L588.5,556.7 L589.0,556.6 L589.5,556.6 L590.0,556.5 L590.5,556.5 L591.0,556.5 L591.5,556.5 L592.0,556.5 L592.5,556.5 L593.0,556.5 L593.5,556.5 L594.0,556.5 L594.5,556.6 L595.0,556.6 L595.5,556.6 L596.0,556.7 L596.5,556.8 L597.0,556.8 L597.5,556.9 L598.0,557.0 L598.5,557.1 L599.0,557.2 L599.5,557.3 L600.0,557.4 L600.5,557.5 L601.0,557.6 L601.5,557.7 L602.0,557.9 L602.5,558.0 L603.0,558.2 L603.5,558.3 L604.0,558.5 L604.5,558.7 L605.0,558.8 L605.5,559.0 L606.0,559.2 L606.5,559.4 L607.0,559.6 L607.5,559.8 L608.0,560.1 L608.5,560.3 L609.0,560.5 L609.5,560.7 L610.0,561.0 L610.5,561.2 L611.0,561.5 L611.5,561.7 L612.0,562.0 L612.5,562.3 L613.0,562.5 L613.5,562.8 L614.0,563.1 L614.5,563.4 L615.0,563.7 L615.5,564.0 L616.0,564.3 L616.5,564.6 L617.0,564.9 L617.5,565.2 L618.0,565.5 L618.5,565.9 L619.0,566.2 L619.5,566.5 L620.0,566.8 L620.5,567.2 L621.0,567.5 L621.5,567.9 L622.0,568.2 L622.5,568.6 L623.0,568.9 L623.5,569.3 L624.0,569.7 L624.5,570.0 L625.0,570.4 L625.5,570.8 L626.0,571.1 L626.5,571.5 L627.0,571.9 L627.5,572.3 L628.0,572.6 L628.5,573.0 L629.0,573.4 L629.5,573.8 L630.0,574.2 L630.5,574.6 L631.0,575.0 L631.5,575.4 L632.0,575.7 L632.5,576.1 L633.0,576.5 L633.5,576.9 L634.0,577.3 L634.5,577.7 L635.0,578.1 L635.5,578.5 L636.0,578.9 L636.5,579.3 L637.0,579.7 L637.5,580.1 L638.0,580.5 L638.5,580.9 L639.0,581.3 L639.5,581.7 L640.0,582.1 L640.5,582.5 L641.0,582.9 L641.5,583.3 L642.0,583.7 L642.5,584.1 L643.0,584.5 L643.5,584.9 L644.0,585.3 L644.5,585.7 L645.0,586.1 L645.5,586.5 L646.0,586.9 L646.5,587.3 L647.0,587.7 L647.5,588.1 L648.0,588.5 L648.5,588.9 L649.0,589.3 L649.5,589.7 L650.0,590.1 L650.5,590.4 L651.0,590.8 L651.5,591.2 L652.0,591.6 L652.5,592.0 L653.0,592.4 L653.5,592.7 L654.0,593.1 L654.5,593.5 L655.0,593.9 L655.5,594.2 L656.0,594.6 L656.5,595.0 L657.0,595.4 L657.5,595.7 L658.0,596.1 L658.5,596.5 L659.0,596.8 L659.5,597.2 L660.0,597.5 L660.5,597.9 L661.0,598.3 L661.5,598.6 L662.0,599.0 L662.5,599.3 L663.0,599.7 L663.5,600.0 L664.0,600.4 L664.5,600.7 L665.0,601.1 L665.5,601.4 L666.0,601.8 L666.5,602.1 L667.0,602.5 L667.5,602.8 L668.0,603.1 L668.5,603.5 L669.0,603.8 L669.5,604.1 L670.0,604.5 L670.5,604.8 L671.0,605.1 L671.5,605.5 L672.0,605.8 L672.5,606.1 L673.0,606.4 L673.5,606.7 L674.0,607.1 L674.5,607.4 L675.0,607.7 L675.5,608.0 L676.0,608.3 L676.5,608.6 L677.0,609.0 L677.5,609.3 L678.0,609.6 L678.5,609.9 L679.0,610.2 L679.5,610.5 L680.0,610.8 L680.5,611.1 L681.0,611.4 L681.5,611.7 L682.0,612.0 L682.5,612.3 L683.0,612.6 L683.5,612.9 L684.0,613.2 L684.5,613.5 L685.0,613.8 L685.5,614.0 L686.0,614.3 L686.5,614.6 L687.0,614.9 L687.5,615.2 L688.0,615.5 L688.5,615.7 L689.0,616.0 L689.5,616.3 L690.0,616.6 L690.5,616.9 L691.0,617.1 L691.5,617.4 L692.0,617.7 L692.5,617.9 L693.0,618.2 L693.5,618.5 L694.0,618.8 L694.5,619.0 L695.0,619.3 L695.5,619.5 L696.0,619.8 L696.5,620.1 L697.0,620.3 L697.5,620.6 L698.0,620.8 L698.5,621.1 L699.0,621.4 L699.5,621.6 L700.0,621.9 L700.5,622.1 L701.0,622.4 L701.5,622.6 L702.0,622.9 L702.5,623.1 L703.0,623.3 L703.5,623.6 L704.0,623.8 L704.5,624.1 L705.0,624.3 L705.5,624.5 L706.0,624.8 L706.5,625.0 L707.0,625.3 L707.5,625.5 L708.0,625.7 L708.5,625.9 L709.0,626.2 L709.5,626.4 L710.0,626.6 L710.5,626.9 L711.0,627.1 L711.5,627.3 L712.0,627.5 L712.5,627.7 L713.0,628.0 L713.5,628.2 L714.0,628.4 L714.5,628.6 L715.0,628.8 L715.5,629.0 L716.0,629.2 L716.5,629.5 L717.0,629.7 L717.5,629.9 L718.0,630.1 L718.5,630.3 L719.0,630.5 L719.5,630.7 L720.0,630.9 L720.5,631.1 L721.0,631.3 L721.5,631.5 L722.0,631.7 L722.5,631.9 L723.0,632.1 L723.5,632.3 L724.0,632.4 L724.5,632.6 L725.0,632.8 L725.5,633.0 L726.0,633.2 L726.5,633.4 L727.0,633.6 L727.5,633.7 L728.0,633.9 L728.5,634.1 L729.0,634.3 L729.5,634.4 L730.0,634.6 L730.5,634.8 L731.0,635.0 L731.5,635.1 L732.0,635.3 L732.5,635.5 L733.0,635.6 L733.5,635.8 L734.0,635.9 L734.5,636.1 L735.0,636.3 L735.5,636.4 L736.0,636.6 L736.5,636.7 L737.0,636.9 L737.5,637.0 L738.0,637.2 L738.5,637.3 L739.0,637.5 L739.5,637.6 L740.0,637.8 L740.5,637.9 L741.0,638.1 L741.5,638.2 L742.0,638.4 L742.5,638.5 L743.0,638.6 L743.5,638.8 L744.0,638.9 L744.5,639.0 L745.0,639.2 L745.5,639.3 L746.0,639.4 L746.5,639.6 L747.0,639.7 L747.5,639.8 L748.0,639.9 L748.5,640.1 L749.0,640.2 L749.5,640.3 L750.0,640.4 L750.5,640.5 L751.0,640.7 L751.5,640.8 L752.0,640.9 L752.5,641.0 L753.0,641.1 L753.5,641.2 L754.0,641.3 L754.5,641.4 L755.0,641.5 L755.5,641.6 L756.0,641.7 L756.5,641.8 L757.0,641.9 L757.5,642.0 L758.0,642.1 L758.5,642.2 L759.0,642.3 L759.5,642.4 L760.0,642.5 L760.5,642.6 L761.0,642.7 L761.5,642.8 L762.0,642.9 L762.5,643.0 L763.0,643.1 L763.5,643.1" fill="none" stroke="#0000ff" stroke-width="3.1" stroke-linejoin="round" stroke-linecap="butt"/><path d="M180.0,649.5 L180.5,649.4 L181.0,649.3 L181.5,649.2 L182.0,649.0 L182.5,648.9 L183.0,648.8 L183.5,648.6 L184.0,648.5 L184.5,648.3 L185.0,648.2 L185.5,648.0 L186.0,647.9 L186.5,647.7 L187.0,647.5 L187.5,647.3 L188.0,647.1 L188.5,646.9 L189.0,646.7 L189.5,646.4 L190.0,646.2 L190.5,646.0 L191.0,645.7 L191.5,645.4 L192.0,645.2 L192.5,644.9 L193.0,644.6 L193.5,644.3 L194.0,643.9 L194.5,643.6 L195.0,643.3 L195.5,642.9 L196.0,642.5 L196.5,642.1 L197.0,641.7 L197.5,641.3 L198.0,640.8 L198.5,640.4 L199.0,639.9 L199.5,639.4 L200.0,638.9 L200.5,638.4 L201.0,637.8 L201.5,637.2 L202.0,636.6 L202.5,636.0 L203.0,635.3 L203.5,634.6 L204.0,633.9 L204.5,633.2 L205.0,632.4 L205.5,631.6 L206.0,630.8 L206.5,630.0 L207.0,629.1 L207.5,628.2 L208.0,627.2 L208.5,626.2 L209.0,625.2 L209.5,624.1 L210.0,623.0 L210.5,621.9 L211.0,620.7 L211.5,619.4 L212.0,618.1 L212.5,616.8 L213.0,615.4 L213.5,614.0 L214.0,612.5 L214.5,611.0 L215.0,609.4 L215.5,607.8 L216.0,606.1 L216.5,604.3 L217.0,602.5 L217.5,600.7 L218.0,598.7 L218.5,596.8 L219.0,594.7 L219.5,592.6 L220.0,590.4 L220.5,588.1 L221.0,585.8 L221.5,583.4 L222.0,581.0 L222.5,578.4 L223.0,575.8 L223.5,573.2 L224.0,570.4 L224.5,567.6 L225.0,564.7 L225.5,561.7 L226.0,558.6 L226.5,555.5 L227.0,552.3 L227.5,549.0 L228.0,545.6 L228.5,542.2 L229.0,538.7 L229.5,535.1 L230.0,531.4 L230.5,527.6 L231.0,523.8 L231.5,519.9 L232.0,515.9 L232.5,511.8 L233.0,507.7 L233.5,503.5 L234.0,499.2 L234.5,494.8 L235.0,490.4 L235.5,485.9 L236.0,481.3 L236.5,476.7 L237.0,472.0 L237.5,467.2 L238.0,462.4 L238.5,457.5 L239.0,452.5 L239.5,447.5 L240.0,442.5 L240.5,437.4 L241.0,432.2 L241.5,427.0 L242.0,421.8 L242.5,416.5 L243.0,411.2 L243.5,405.9 L244.0,400.5 L244.5,395.1 L245.0,389.7 L245.5,384.2 L246.0,378.8 L246.5,373.3 L247.0,367.8 L247.5,362.3 L248.0,356.8 L248.5,351.3 L249.0,345.8 L249.5,340.3 L250.0,334.9 L250.5,329.4 L251.0,324.0 L251.5,318.5 L252.0,313.1 L252.5,307.8 L253.0,302.5 L253.5,297.2 L254.0,291.9 L254.5,286.7 L255.0,281.6 L255.5,276.5 L256.0,271.4 L256.5,266.4 L257.0,261.5 L257.5,256.6 L258.0,251.9 L258.5,247.1 L259.0,242.5 L259.5,237.9 L260.0,233.5 L260.5,229.1 L261.0,224.8 L261.5,220.6 L262.0,216.4 L262.5,212.4 L263.0,208.5 L263.5,204.7 L264.0,201.0 L264.5,197.4 L265.0,193.9 L265.5,190.5 L266.0,187.2 L266.5,184.0 L267.0,181.0 L267.5,178.1 L268.0,175.2 L268.5,172.6 L269.0,170.0 L269.5,167.5 L270.0,165.2 L270.5,163.0 L271.0,161.0 L271.5,159.0 L272.0,157.2 L272.5,155.5 L273.0,153.9 L273.5,152.5 L274.0,151.2 L274.5,150.0 L275.0,149.0 L275.5,148.0 L276.0,147.2 L276.5,146.5 L277.0,146.0 L277.5,145.6 L278.0,145.2 L278.5,145.1 L279.0,145.0 L279.5,145.0 L280.0,145.2 L280.5,145.5 L281.0,145.9 L281.5,146.4 L282.0,147.0 L282.5,147.8 L283.0,148.6 L283.5,149.6 L284.0,150.6 L284.5,151.8 L285.0,153.0 L285.5,154.4 L286.0,155.8 L286.5,157.4 L287.0,159.0 L287.5,160.7 L288.0,162.5 L288.5,164.4 L289.0,166.4 L289.5,168.5 L290.0,170.6 L290.5,172.8 L291.0,175.0 L291.5,177.4 L292.0,179.8 L292.5,182.2 L293.0,184.7 L293.5,187.3 L294.0,189.9 L294.5,192.6 L295.0,195.3 L295.5,198.1 L296.0,200.9 L296.5,203.8 L297.0,206.7 L297.5,209.6 L298.0,212.6 L298.5,215.6 L299.0,218.6 L299.5,221.6 L300.0,224.7 L300.5,227.7 L301.0,230.8 L301.5,234.0 L302.0,237.1 L302.5,240.2 L303.0,243.4 L303.5,246.5 L304.0,249.6 L304.5,252.8 L305.0,255.9 L305.5,259.1 L306.0,262.2 L306.5,265.4 L307.0,268.5 L307.5,271.6 L308.0,274.7 L308.5,277.8 L309.0,280.8 L309.5,283.9 L310.0,286.9 L310.5,289.9 L311.0,292.9 L311.5,295.9 L312.0,298.8 L312.5,301.7 L313.0,304.6 L313.5,307.4 L314.0,310.2 L314.5,313.0 L315.0,315.8 L315.5,318.5 L316.0,321.1 L316.5,323.8 L317.0,326.4 L317.5,328.9 L318.0,331.5 L318.5,333.9 L319.0,336.4 L319.5,338.8 L320.0,341.1 L320.5,343.4 L321.0,345.7 L321.5,347.9 L322.0,350.1 L322.5,352.2 L323.0,354.3 L323.5,356.3 L324.0,358.3 L324.5,360.2 L325.0,362.1 L325.5,363.9 L326.0,365.7 L326.5,367.4 L327.0,369.1 L327.5,370.7 L328.0,372.3 L328.5,373.9 L329.0,375.4 L329.5,376.8 L330.0,378.2 L330.5,379.6 L331.0,380.9 L331.5,382.2 L332.0,383.5 L332.5,384.7 L333.0,385.9 L333.5,387.0 L334.0,388.1 L334.5,389.2 L335.0,390.3 L335.5,391.3 L336.0,392.4 L336.5,393.4 L337.0,394.4 L337.5,395.3 L338.0,396.3 L338.5,397.3 L339.0,398.2 L339.5,399.2 L340.0,400.2 L340.5,401.1 L341.0,402.1 L341.5,403.1 L342.0,404.1 L342.5,405.1 L343.0,406.2 L343.5,407.2 L344.0,408.3 L344.5,409.4 L345.0,410.6 L345.5,411.8 L346.0,413.0 L346.5,414.3 L347.0,415.5 L347.5,416.9 L348.0,418.2 L348.5,419.7 L349.0,421.1 L349.5,422.6 L350.0,424.1 L350.5,425.7 L351.0,427.4 L351.5,429.0 L352.0,430.7 L352.5,432.5 L353.0,434.3 L353.5,436.1 L354.0,438.0 L354.5,439.9 L355.0,441.8 L355.5,443.7 L356.0,445.7 L356.5,447.8 L357.0,449.8 L357.5,451.9 L358.0,454.0 L358.5,456.1 L359.0,458.2 L359.5,460.3 L360.0,462.5 L360.5,464.6 L361.0,466.8 L361.5,469.0 L362.0,471.1 L362.5,473.3 L363.0,475.5 L363.5,477.6 L364.0,479.8 L364.5,481.9 L365.0,484.1 L365.5,486.2 L366.0,488.3 L366.5,490.4 L367.0,492.5 L367.5,494.6 L368.0,496.6 L368.5,498.6 L369.0,500.6 L369.5,502.6 L370.0,504.5 L370.5,506.5 L371.0,508.4 L371.5,510.3 L372.0,512.1 L372.5,514.0 L373.0,515.8 L373.5,517.6 L374.0,519.4 L374.5,521.1 L375.0,522.8 L375.5,524.5 L376.0,526.2 L376.5,527.8 L377.0,529.5 L377.5,531.1 L378.0,532.6 L378.5,534.2 L379.0,535.7 L379.5,537.3 L380.0,538.8 L380.5,540.2 L381.0,541.7 L381.5,543.1 L382.0,544.6 L382.5,546.0 L383.0,547.3 L383.5,548.7 L384.0,550.1 L384.5,551.4 L385.0,552.7 L385.5,554.0 L386.0,555.3 L386.5,556.6 L387.0,557.8 L387.5,559.0 L388.0,560.3 L388.5,561.5 L389.0,562.6 L389.5,563.8 L390.0,565.0 L390.5,566.1 L391.0,567.2 L391.5,568.4 L392.0,569.5 L392.5,570.5 L393.0,571.6 L393.5,572.7 L394.0,573.7 L394.5,574.7 L395.0,575.7 L395.5,576.7 L396.0,577.7 L396.5,578.7 L397.0,579.6 L397.5,580.5 L398.0,581.4 L398.5,582.3 L399.0,583.2 L399.5,584.1 L400.0,585.0 L400.5,585.8 L401.0,586.6 L401.5,587.4 L402.0,588.2 L402.5,589.0 L403.0,589.8 L403.5,590.5 L404.0,591.3 L404.5,592.0 L405.0,592.7 L405.5,593.4 L406.0,594.0 L406.5,594.7 L407.0,595.3 L407.5,596.0 L408.0,596.6 L408.5,597.2 L409.0,597.8 L409.5,598.3 L410.0,598.9 L410.5,599.4 L411.0,599.9 L411.5,600.4 L412.0,600.9 L412.5,601.4 L413.0,601.9 L413.5,602.3 L414.0,602.7 L414.5,603.2 L415.0,603.6 L415.5,603.9 L416.0,604.3 L416.5,604.7 L417.0,605.0 L417.5,605.4 L418.0,605.7 L418.5,606.0 L419.0,606.3 L419.5,606.6 L420.0,606.8 L420.5,607.1 L421.0,607.3 L421.5,607.5 L422.0,607.7 L422.5,607.9 L423.0,608.1 L423.5,608.3 L424.0,608.4 L424.5,608.6 L425.0,608.7 L425.5,608.8 L426.0,609.0 L426.5,609.1 L427.0,609.2 L427.5,609.3 L428.0,609.3 L428.5,609.4 L429.0,609.5 L429.5,609.5 L430.0,609.6 L430.5,609.6 L431.0,609.6 L431.5,609.7 L432.0,609.7 L432.5,609.7 L433.0,609.7 L433.5,609.7 L434.0,609.6 L434.5,609.6 L435.0,609.6 L435.5,609.5 L436.0,609.5 L436.5,609.4 L437.0,609.4 L437.5,609.3 L438.0,609.2 L438.5,609.1 L439.0,609.0 L439.5,608.9 L440.0,608.8 L440.5,608.7 L441.0,608.6 L441.5,608.5 L442.0,608.3 L442.5,608.2 L443.0,608.1 L443.5,607.9 L444.0,607.8 L444.5,607.6 L445.0,607.5 L445.5,607.3 L446.0,607.1 L446.5,607.0 L447.0,606.8 L447.5,606.6 L448.0,606.4 L448.5,606.3 L449.0,606.1 L449.5,605.9 L450.0,605.7 L450.5,605.5 L451.0,605.3 L451.5,605.1 L452.0,604.9 L452.5,604.7 L453.0,604.5 L453.5,604.3 L454.0,604.1 L454.5,603.9 L455.0,603.7 L455.5,603.5 L456.0,603.3 L456.5,603.1 L457.0,602.9 L457.5,602.7 L458.0,602.5 L458.5,602.3 L459.0,602.1 L459.5,601.9 L460.0,601.7 L460.5,601.5 L461.0,601.3 L461.5,601.1 L462.0,600.9 L462.5,600.7 L463.0,600.5 L463.5,600.3 L464.0,600.1 L464.5,599.9 L465.0,599.7 L465.5,599.5 L466.0,599.3 L466.5,599.1 L467.0,598.9 L467.5,598.7 L468.0,598.5 L468.5,598.3 L469.0,598.1 L469.5,598.0 L470.0,597.8 L470.5,597.6 L471.0,597.4 L471.5,597.2 L472.0,597.1 L472.5,596.9 L473.0,596.7 L473.5,596.5 L474.0,596.4 L474.5,596.2 L475.0,596.0 L475.5,595.9 L476.0,595.7 L476.5,595.6 L477.0,595.4 L477.5,595.2 L478.0,595.1 L478.5,594.9 L479.0,594.8 L479.5,594.6 L480.0,594.5 L480.5,594.3 L481.0,594.2 L481.5,594.0 L482.0,593.9 L482.5,593.8 L483.0,593.6 L483.5,593.5 L484.0,593.3 L484.5,593.2 L485.0,593.1 L485.5,592.9 L486.0,592.8 L486.5,592.7 L487.0,592.5 L487.5,592.4 L488.0,592.3 L488.5,592.1 L489.0,592.0 L489.5,591.9 L490.0,591.7 L490.5,591.6 L491.0,591.5 L491.5,591.3 L492.0,591.2 L492.5,591.1 L493.0,591.0 L493.5,590.8 L494.0,590.7 L494.5,590.6 L495.0,590.4 L495.5,590.3 L496.0,590.2 L496.5,590.0 L497.0,589.9 L497.5,589.8 L498.0,589.6 L498.5,589.5 L499.0,589.4 L499.5,589.2 L500.0,589.1 L500.5,588.9 L501.0,588.8 L501.5,588.6 L502.0,588.5 L502.5,588.4 L503.0,588.2 L503.5,588.1 L504.0,587.9 L504.5,587.8 L505.0,587.6 L505.5,587.4 L506.0,587.3 L506.5,587.1 L507.0,587.0 L507.5,586.8 L508.0,586.6 L508.5,586.5 L509.0,586.3 L509.5,586.1 L510.0,586.0 L510.5,585.8 L511.0,585.6 L511.5,585.4 L512.0,585.2 L512.5,585.1 L513.0,584.9 L513.5,584.7 L514.0,584.5 L514.5,584.3 L515.0,584.1 L515.5,583.9 L516.0,583.7 L516.5,583.5 L517.0,583.3 L517.5,583.1 L518.0,582.8 L518.5,582.6 L519.0,582.4 L519.5,582.2 L520.0,582.0 L520.5,581.7 L521.0,581.5 L521.5,581.3 L522.0,581.0 L522.5,580.8 L523.0,580.6 L523.5,580.3 L524.0,580.1 L524.5,579.8 L525.0,579.6 L525.5,579.3 L526.0,579.1 L526.5,578.8 L527.0,578.5 L527.5,578.3 L528.0,578.0 L528.5,577.8 L529.0,577.5 L529.5,577.2 L530.0,576.9 L530.5,576.7 L531.0,576.4 L531.5,576.1 L532.0,575.8 L532.5,575.6 L533.0,575.3 L533.5,575.0 L534.0,574.7 L534.5,574.4 L535.0,574.2 L535.5,573.9 L536.0,573.6 L536.5,573.3 L537.0,573.0 L537.5,572.7 L538.0,572.4 L538.5,572.1 L539.0,571.9 L539.5,571.6 L540.0,571.3 L540.5,571.0 L541.0,570.7 L541.5,570.4 L542.0,570.1 L542.5,569.9 L543.0,569.6 L543.5,569.3 L544.0,569.0 L544.5,568.7 L545.0,568.5 L545.5,568.2 L546.0,567.9 L546.5,567.6 L547.0,567.4 L547.5,567.1 L548.0,566.8 L548.5,566.6 L549.0,566.3 L549.5,566.0 L550.0,565.8 L550.5,565.5 L551.0,565.3 L551.5,565.0 L552.0,564.8 L552.5,564.5 L553.0,564.3 L553.5,564.0 L554.0,563.8 L554.5,563.6 L555.0,563.4 L555.5,563.1 L556.0,562.9 L556.5,562.7 L557.0,562.5 L557.5,562.3 L558.0,562.1 L558.5,561.9 L559.0,561.7 L559.5,561.5 L560.0,561.3 L560.5,561.1 L561.0,560.9 L561.5,560.8 L562.0,560.6 L562.5,560.4 L563.0,560.3 L563.5,560.1 L564.0,560.0 L564.5,559.9 L565.0,559.7 L565.5,559.6 L566.0,559.5 L566.5,559.3 L567.0,559.2 L567.5,559.1 L568.0,559.0 L568.5,558.9 L569.0,558.8 L569.5,558.7 L570.0,558.7 L570.5,558.6 L571.0,558.5 L571.5,558.5 L572.0,558.4 L572.5,558.4 L573.0,558.3 L573.5,558.3 L574.0,558.3 L574.5,558.2 L575.0,558.2 L575.5,558.2 L576.0,558.2 L576.5,558.2 L577.0,558.2 L577.5,558.2 L578.0,558.2 L578.5,558.2 L579.0,558.3 L579.5,558.3 L580.0,558.4 L580.5,558.4 L581.0,558.5 L581.5,558.5 L582.0,558.6 L582.5,558.6 L583.0,558.7 L583.5,558.8 L584.0,558.9 L584.5,559.0 L585.0,559.1 L585.5,559.2 L586.0,559.3 L586.5,559.4 L587.0,559.5 L587.5,559.7 L588.0,559.8 L588.5,559.9 L589.0,560.1 L589.5,560.2 L590.0,560.4 L590.5,560.6 L591.0,560.7 L591.5,560.9 L592.0,561.1 L592.5,561.3 L593.0,561.4 L593.5,561.6 L594.0,561.8 L594.5,562.0 L595.0,562.2 L595.5,562.5 L596.0,562.7 L596.5,562.9 L597.0,563.1 L597.5,563.3 L598.0,563.6 L598.5,563.8 L599.0,564.1 L599.5,564.3 L600.0,564.6 L600.5,564.8 L601.0,565.1 L601.5,565.3 L602.0,565.6 L602.5,565.9 L603.0,566.1 L603.5,566.4 L604.0,566.7 L604.5,567.0 L605.0,567.3 L605.5,567.6 L606.0,567.9 L606.5,568.2 L607.0,568.5 L607.5,568.8 L608.0,569.1 L608.5,569.4 L609.0,569.7 L609.5,570.0 L610.0,570.3 L610.5,570.6 L611.0,571.0 L611.5,571.3 L612.0,571.6 L612.5,572.0 L613.0,572.3 L613.5,572.6 L614.0,573.0 L614.5,573.3 L615.0,573.7 L615.5,574.0 L616.0,574.3 L616.5,574.7 L617.0,575.0 L617.5,575.4 L618.0,575.7 L618.5,576.1 L619.0,576.5 L619.5,576.8 L620.0,577.2 L620.5,577.5 L621.0,577.9 L621.5,578.3 L622.0,578.6 L622.5,579.0 L623.0,579.4 L623.5,579.7 L624.0,580.1 L624.5,580.5 L625.0,580.8 L625.5,581.2 L626.0,581.6 L626.5,582.0 L627.0,582.3 L627.5,582.7 L628.0,583.1 L628.5,583.4 L629.0,583.8 L629.5,584.2 L630.0,584.6 L630.5,584.9 L631.0,585.3 L631.5,585.7 L632.0,586.1 L632.5,586.4 L633.0,586.8 L633.5,587.2 L634.0,587.6 L634.5,587.9 L635.0,588.3 L635.5,588.7 L636.0,589.1 L636.5,589.4 L637.0,589.8 L637.5,590.2 L638.0,590.6 L638.5,590.9 L639.0,591.3 L639.5,591.7 L640.0,592.0 L640.5,592.4 L641.0,592.8 L641.5,593.1 L642.0,593.5 L642.5,593.9 L643.0,594.2 L643.5,594.6 L644.0,595.0 L644.5,595.3 L645.0,595.7 L645.5,596.0 L646.0,596.4 L646.5,596.8 L647.0,597.1 L647.5,597.5 L648.0,597.8 L648.5,598.2 L649.0,598.5 L649.5,598.9 L650.0,599.2 L650.5,599.6 L651.0,599.9 L651.5,600.3 L652.0,600.6 L652.5,601.0 L653.0,601.3 L653.5,601.7 L654.0,602.0 L654.5,602.4 L655.0,602.7 L655.5,603.0 L656.0,603.4 L656.5,603.7 L657.0,604.0 L657.5,604.4 L658.0,604.7 L658.5,605.0 L659.0,605.4 L659.5,605.7 L660.0,606.0 L660.5,606.3 L661.0,606.7 L661.5,607.0 L662.0,607.3 L662.5,607.6 L663.0,607.9 L663.5,608.2 L664.0,608.6 L664.5,608.9 L665.0,609.2 L665.5,609.5 L666.0,609.8 L666.5,610.1 L667.0,610.4 L667.5,610.7 L668.0,611.0 L668.5,611.3 L669.0,611.6 L669.5,611.9 L670.0,612.2 L670.5,612.5 L671.0,612.8 L671.5,613.1 L672.0,613.4 L672.5,613.7 L673.0,614.0 L673.5,614.3 L674.0,614.6 L674.5,614.9 L675.0,615.1 L675.5,615.4 L676.0,615.7 L676.5,616.0 L677.0,616.3 L677.5,616.6 L678.0,616.8 L678.5,617.1 L679.0,617.4 L679.5,617.7 L680.0,617.9 L680.5,618.2 L681.0,618.5 L681.5,618.7 L682.0,619.0 L682.5,619.3 L683.0,619.5 L683.5,619.8 L684.0,620.1 L684.5,620.3 L685.0,620.6 L685.5,620.9 L686.0,621.1 L686.5,621.4 L687.0,621.6 L687.5,621.9 L688.0,622.1 L688.5,622.4 L689.0,622.6 L689.5,622.9 L690.0,623.1 L690.5,623.4 L691.0,623.6 L691.5,623.9 L692.0,624.1 L692.5,624.4 L693.0,624.6 L693.5,624.8 L694.0,625.1 L694.5,625.3 L695.0,625.6 L695.5,625.8 L696.0,626.0 L696.5,626.3 L697.0,626.5 L697.5,626.7 L698.0,626.9 L698.5,627.2 L699.0,627.4 L699.5,627.6 L700.0,627.8 L700.5,628.1 L701.0,628.3 L701.5,628.5 L702.0,628.7 L702.5,628.9 L703.0,629.2 L703.5,629.4 L704.0,629.6 L704.5,629.8 L705.0,630.0 L705.5,630.2 L706.0,630.4 L706.5,630.6 L707.0,630.8 L707.5,631.0 L708.0,631.2 L708.5,631.4 L709.0,631.6 L709.5,631.8 L710.0,632.0 L710.5,632.2 L711.0,632.4 L711.5,632.6 L712.0,632.8 L712.5,633.0 L713.0,633.2 L713.5,633.4 L714.0,633.6 L714.5,633.7 L715.0,633.9 L715.5,634.1 L716.0,634.3 L716.5,634.5 L717.0,634.6 L717.5,634.8 L718.0,635.0 L718.5,635.2 L719.0,635.3 L719.5,635.5 L720.0,635.7 L720.5,635.8 L721.0,636.0 L721.5,636.2 L722.0,636.3 L722.5,636.5 L723.0,636.7 L723.5,636.8 L724.0,637.0 L724.5,637.1 L725.0,637.3 L725.5,637.4 L726.0,637.6 L726.5,637.7 L727.0,637.9 L727.5,638.0 L728.0,638.2 L728.5,638.3 L729.0,638.5 L729.5,638.6 L730.0,638.7 L730.5,638.9 L731.0,639.0 L731.5,639.1 L732.0,639.3 L732.5,639.4 L733.0,639.5 L733.5,639.7 L734.0,639.8 L734.5,639.9 L735.0,640.0 L735.5,640.2 L736.0,640.3 L736.5,640.4 L737.0,640.5 L737.5,640.6 L738.0,640.7 L738.5,640.8 L739.0,641.0 L739.5,641.1 L740.0,641.2 L740.5,641.3 L741.0,641.4 L741.5,641.5 L742.0,641.6 L742.5,641.7 L743.0,641.8 L743.5,641.9 L744.0,642.0 L744.5,642.1 L745.0,642.1 L745.5,642.2 L746.0,642.3 L746.5,642.4 L747.0,642.5 L747.5,642.6 L748.0,642.6 L748.5,642.7 L749.0,642.8 L749.5,642.9 L750.0,642.9 L750.5,643.0 L751.0,643.1 L751.5,643.1 L752.0,643.2 L752.5,643.3 L753.0,643.3 L753.5,643.4 L754.0,643.5 L754.5,643.5 L755.0,643.6 L755.5,643.6 L756.0,643.7 L756.5,643.7 L757.0,643.8 L757.5,643.8 L758.0,643.9 L758.5,643.9 L759.0,643.9 L759.5,644.0 L760.0,644.0 L760.5,644.1 L761.0,644.1 L761.5,644.1 L762.0,644.2 L762.5,644.2 L763.0,644.2 L763.5,644.2" fill="none" stroke="#008080" stroke-width="3.1" stroke-linejoin="round" stroke-linecap="butt"/><path d="M179.6,647.6 L180.1,647.7 L180.6,647.7 L181.1,647.8 L181.6,647.8 L182.1,647.9 L182.6,647.9 L183.1,648.0 L183.6,648.0 L184.1,648.1 L184.6,648.1 L185.1,648.2 L185.6,648.2 L186.1,648.3 L186.6,648.3 L187.1,648.4 L187.6,648.4 L188.1,648.5 L188.6,648.5 L189.1,648.6 L189.6,648.6 L190.1,648.7 L190.6,648.7 L191.1,648.8 L191.6,648.8 L192.1,648.9 L192.6,648.9 L193.1,648.9 L193.6,649.0 L194.1,649.0 L194.6,649.1 L195.1,649.1 L195.6,649.1 L196.1,649.2 L196.6,649.2 L197.1,649.3 L197.6,649.3 L198.1,649.3 L198.6,649.3 L199.1,649.4 L199.6,649.4 L200.1,649.4 L200.6,649.4 L201.1,649.4 L201.6,649.5 L202.1,649.5 L202.6,649.5 L203.1,649.5 L203.6,649.5 L204.1,649.4 L204.6,649.4 L205.1,649.4 L205.6,649.4 L206.1,649.4 L206.6,649.3 L207.1,649.3 L207.6,649.2 L208.1,649.2 L208.6,649.1 L209.1,649.1 L209.6,649.0 L210.1,648.9 L210.6,648.8 L211.1,648.7 L211.6,648.6 L212.1,648.5 L212.6,648.3 L213.1,648.2 L213.6,648.0 L214.1,647.9 L214.6,647.7 L215.1,647.5 L215.6,647.3 L216.1,647.1 L216.6,646.9 L217.1,646.6 L217.6,646.4 L218.1,646.1 L218.6,645.8 L219.1,645.5 L219.6,645.2 L220.1,644.8 L220.6,644.5 L221.1,644.1 L221.6,643.7 L222.1,643.3 L222.6,642.8 L223.1,642.3 L223.6,641.9 L224.1,641.3 L224.6,640.8 L225.1,640.2 L225.6,639.6 L226.1,639.0 L226.6,638.4 L227.1,637.7 L227.6,637.0 L228.1,636.2 L228.6,635.5 L229.1,634.7 L229.6,633.8 L230.1,632.9 L230.6,632.0 L231.1,631.1 L231.6,630.1 L232.1,629.1 L232.6,628.0 L233.1,626.9 L233.6,625.8 L234.1,624.6 L234.6,623.4 L235.1,622.1 L235.6,620.8 L236.1,619.4 L236.6,618.0 L237.1,616.5 L237.6,615.0 L238.1,613.5 L238.6,611.8 L239.1,610.2 L239.6,608.5 L240.1,606.7 L240.6,604.9 L241.1,603.0 L241.6,601.0 L242.1,599.0 L242.6,597.0 L243.1,594.9 L243.6,592.7 L244.1,590.5 L244.6,588.2 L245.1,585.8 L245.6,583.4 L246.1,580.9 L246.6,578.3 L247.1,575.7 L247.6,573.0 L248.1,570.3 L248.6,567.5 L249.1,564.6 L249.6,561.7 L250.1,558.6 L250.6,555.6 L251.1,552.4 L251.6,549.2 L252.1,545.9 L252.6,542.6 L253.1,539.1 L253.6,535.6 L254.1,532.1 L254.6,528.5 L255.1,524.8 L255.6,521.0 L256.1,517.2 L256.6,513.3 L257.1,509.3 L257.6,505.3 L258.1,501.2 L258.6,497.1 L259.1,492.9 L259.6,488.6 L260.1,484.3 L260.6,479.9 L261.1,475.4 L261.6,470.9 L262.1,466.3 L262.6,461.7 L263.1,457.0 L263.6,452.3 L264.1,447.6 L264.6,442.7 L265.1,437.9 L265.6,433.0 L266.1,428.0 L266.6,423.0 L267.1,418.0 L267.6,412.9 L268.1,407.8 L268.6,402.7 L269.1,397.6 L269.6,392.4 L270.1,387.2 L270.6,381.9 L271.1,376.7 L271.6,371.4 L272.1,366.2 L272.6,360.9 L273.1,355.6 L273.6,350.3 L274.1,345.0 L274.6,339.7 L275.1,334.5 L275.6,329.2 L276.1,323.9 L276.6,318.7 L277.1,313.5 L277.6,308.3 L278.1,303.1 L278.6,298.0 L279.1,292.8 L279.6,287.8 L280.1,282.7 L280.6,277.7 L281.1,272.8 L281.6,267.9 L282.1,263.1 L282.6,258.3 L283.1,253.5 L283.6,248.9 L284.1,244.3 L284.6,239.7 L285.1,235.3 L285.6,230.9 L286.1,226.6 L286.6,222.4 L287.1,218.3 L287.6,214.2 L288.1,210.3 L288.6,206.4 L289.1,202.6 L289.6,199.0 L290.1,195.4 L290.6,192.0 L291.1,188.6 L291.6,185.4 L292.1,182.2 L292.6,179.2 L293.1,176.3 L293.6,173.5 L294.1,170.9 L294.6,168.3 L295.1,165.9 L295.6,163.6 L296.1,161.5 L296.6,159.4 L297.1,157.5 L297.6,155.7 L298.1,154.1 L298.6,152.6 L299.1,151.2 L299.6,149.9 L300.1,148.8 L300.6,147.8 L301.1,146.9 L301.6,146.2 L302.1,145.6 L302.6,145.1 L303.1,144.8 L303.6,144.6 L304.1,144.5 L304.6,144.6 L305.1,144.7 L305.6,145.1 L306.1,145.5 L306.6,146.0 L307.1,146.7 L307.6,147.5 L308.1,148.4 L308.6,149.4 L309.1,150.6 L309.6,151.8 L310.1,153.2 L310.6,154.7 L311.1,156.3 L311.6,158.0 L312.1,159.7 L312.6,161.6 L313.1,163.6 L313.6,165.6 L314.1,167.8 L314.6,170.0 L315.1,172.4 L315.6,174.8 L316.1,177.2 L316.6,179.8 L317.1,182.4 L317.6,185.1 L318.1,187.8 L318.6,190.6 L319.1,193.5 L319.6,196.4 L320.1,199.4 L320.6,202.4 L321.1,205.4 L321.6,208.5 L322.1,211.6 L322.6,214.8 L323.1,218.0 L323.6,221.2 L324.1,224.4 L324.6,227.6 L325.1,230.9 L325.6,234.2 L326.1,237.4 L326.6,240.7 L327.1,244.0 L327.6,247.3 L328.1,250.6 L328.6,253.8 L329.1,257.1 L329.6,260.3 L330.1,263.6 L330.6,266.8 L331.1,270.0 L331.6,273.1 L332.1,276.3 L332.6,279.4 L333.1,282.5 L333.6,285.5 L334.1,288.5 L334.6,291.5 L335.1,294.5 L335.6,297.4 L336.1,300.2 L336.6,303.1 L337.1,305.8 L337.6,308.6 L338.1,311.3 L338.6,313.9 L339.1,316.5 L339.6,319.1 L340.1,321.6 L340.6,324.0 L341.1,326.4 L341.6,328.8 L342.1,331.1 L342.6,333.3 L343.1,335.5 L343.6,337.7 L344.1,339.8 L344.6,341.9 L345.1,343.9 L345.6,345.8 L346.1,347.8 L346.6,349.6 L347.1,351.4 L347.6,353.2 L348.1,355.0 L348.6,356.7 L349.1,358.3 L349.6,359.9 L350.1,361.5 L350.6,363.0 L351.1,364.5 L351.6,366.0 L352.1,367.4 L352.6,368.8 L353.1,370.2 L353.6,371.6 L354.1,372.9 L354.6,374.2 L355.1,375.4 L355.6,376.7 L356.1,377.9 L356.6,379.1 L357.1,380.3 L357.6,381.5 L358.1,382.6 L358.6,383.8 L359.1,384.9 L359.6,386.0 L360.1,387.2 L360.6,388.3 L361.1,389.4 L361.6,390.5 L362.1,391.6 L362.6,392.8 L363.1,393.9 L363.6,395.0 L364.1,396.1 L364.6,397.3 L365.1,398.4 L365.6,399.6 L366.1,400.7 L366.6,401.9 L367.1,403.1 L367.6,404.3 L368.1,405.5 L368.6,406.8 L369.1,408.0 L369.6,409.3 L370.1,410.6 L370.6,411.9 L371.1,413.3 L371.6,414.6 L372.1,416.0 L372.6,417.4 L373.1,418.8 L373.6,420.3 L374.1,421.7 L374.6,423.2 L375.1,424.7 L375.6,426.3 L376.1,427.8 L376.6,429.4 L377.1,431.0 L377.6,432.7 L378.1,434.3 L378.6,436.0 L379.1,437.7 L379.6,439.4 L380.1,441.1 L380.6,442.9 L381.1,444.7 L381.6,446.5 L382.1,448.3 L382.6,450.2 L383.1,452.0 L383.6,453.9 L384.1,455.8 L384.6,457.7 L385.1,459.6 L385.6,461.5 L386.1,463.5 L386.6,465.4 L387.1,467.4 L387.6,469.4 L388.1,471.4 L388.6,473.3 L389.1,475.3 L389.6,477.3 L390.1,479.4 L390.6,481.4 L391.1,483.4 L391.6,485.4 L392.1,487.4 L392.6,489.4 L393.1,491.4 L393.6,493.4 L394.1,495.4 L394.6,497.4 L395.1,499.4 L395.6,501.4 L396.1,503.4 L396.6,505.3 L397.1,507.3 L397.6,509.2 L398.1,511.2 L398.6,513.1 L399.1,515.0 L399.6,516.9 L400.1,518.8 L400.6,520.6 L401.1,522.5 L401.6,524.3 L402.1,526.1 L402.6,527.9 L403.1,529.6 L403.6,531.4 L404.1,533.1 L404.6,534.8 L405.1,536.5 L405.6,538.1 L406.1,539.7 L406.6,541.4 L407.1,542.9 L407.6,544.5 L408.1,546.0 L408.6,547.5 L409.1,549.0 L409.6,550.5 L410.1,551.9 L410.6,553.3 L411.1,554.7 L411.6,556.0 L412.1,557.3 L412.6,558.6 L413.1,559.9 L413.6,561.2 L414.1,562.4 L414.6,563.6 L415.1,564.7 L415.6,565.9 L416.1,567.0 L416.6,568.1 L417.1,569.1 L417.6,570.1 L418.1,571.1 L418.6,572.1 L419.1,573.1 L419.6,574.0 L420.1,574.9 L420.6,575.8 L421.1,576.6 L421.6,577.4 L422.1,578.2 L422.6,578.9 L423.1,579.6 L423.6,580.3 L424.1,581.0 L424.6,581.7 L425.1,582.3 L425.6,583.0 L426.1,583.6 L426.6,584.1 L427.1,584.7 L427.6,585.2 L428.1,585.8 L428.6,586.3 L429.1,586.8 L429.6,587.3 L430.1,587.7 L430.6,588.2 L431.1,588.6 L431.6,589.0 L432.1,589.4 L432.6,589.8 L433.1,590.2 L433.6,590.6 L434.1,590.9 L434.6,591.3 L435.1,591.6 L435.6,591.9 L436.1,592.3 L436.6,592.6 L437.1,592.9 L437.6,593.2 L438.1,593.4 L438.6,593.7 L439.1,593.9 L439.6,594.2 L440.1,594.4 L440.6,594.6 L441.1,594.8 L441.6,595.0 L442.1,595.2 L442.6,595.3 L443.1,595.5 L443.6,595.7 L444.1,595.8 L444.6,595.9 L445.1,596.0 L445.6,596.1 L446.1,596.2 L446.6,596.3 L447.1,596.4 L447.6,596.5 L448.1,596.5 L448.6,596.6 L449.1,596.6 L449.6,596.7 L450.1,596.7 L450.6,596.7 L451.1,596.7 L451.6,596.7 L452.1,596.7 L452.6,596.7 L453.1,596.7 L453.6,596.7 L454.1,596.6 L454.6,596.6 L455.1,596.5 L455.6,596.5 L456.1,596.4 L456.6,596.4 L457.1,596.3 L457.6,596.2 L458.1,596.1 L458.6,596.1 L459.1,596.0 L459.6,595.9 L460.1,595.8 L460.6,595.7 L461.1,595.5 L461.6,595.4 L462.1,595.3 L462.6,595.2 L463.1,595.1 L463.6,594.9 L464.1,594.8 L464.6,594.6 L465.1,594.5 L465.6,594.3 L466.1,594.2 L466.6,594.0 L467.1,593.9 L467.6,593.7 L468.1,593.5 L468.6,593.3 L469.1,593.2 L469.6,593.0 L470.1,592.8 L470.6,592.6 L471.1,592.4 L471.6,592.2 L472.1,592.0 L472.6,591.8 L473.1,591.6 L473.6,591.4 L474.1,591.2 L474.6,590.9 L475.1,590.7 L475.6,590.5 L476.1,590.3 L476.6,590.0 L477.1,589.8 L477.6,589.6 L478.1,589.3 L478.6,589.1 L479.1,588.8 L479.6,588.6 L480.1,588.3 L480.6,588.1 L481.1,587.9 L481.6,587.6 L482.1,587.3 L482.6,587.1 L483.1,586.8 L483.6,586.6 L484.1,586.3 L484.6,586.1 L485.1,585.8 L485.6,585.5 L486.1,585.3 L486.6,585.0 L487.1,584.8 L487.6,584.5 L488.1,584.2 L488.6,584.0 L489.1,583.7 L489.6,583.5 L490.1,583.2 L490.6,582.9 L491.1,582.7 L491.6,582.4 L492.1,582.2 L492.6,581.9 L493.1,581.6 L493.6,581.4 L494.1,581.1 L494.6,580.9 L495.1,580.6 L495.6,580.4 L496.1,580.2 L496.6,579.9 L497.1,579.7 L497.6,579.4 L498.1,579.2 L498.6,579.0 L499.1,578.7 L499.6,578.5 L500.1,578.3 L500.6,578.0 L501.1,577.8 L501.6,577.6 L502.1,577.4 L502.6,577.2 L503.1,577.0 L503.6,576.8 L504.1,576.5 L504.6,576.3 L505.1,576.1 L505.6,575.9 L506.1,575.8 L506.6,575.6 L507.1,575.4 L507.6,575.2 L508.1,575.0 L508.6,574.8 L509.1,574.6 L509.6,574.5 L510.1,574.3 L510.6,574.1 L511.1,574.0 L511.6,573.8 L512.1,573.6 L512.6,573.5 L513.1,573.3 L513.6,573.2 L514.1,573.0 L514.6,572.9 L515.1,572.7 L515.6,572.6 L516.1,572.5 L516.6,572.3 L517.1,572.2 L517.6,572.0 L518.1,571.9 L518.6,571.8 L519.1,571.7 L519.6,571.5 L520.1,571.4 L520.6,571.3 L521.1,571.1 L521.6,571.0 L522.1,570.9 L522.6,570.8 L523.1,570.7 L523.6,570.5 L524.1,570.4 L524.6,570.3 L525.1,570.2 L525.6,570.1 L526.1,569.9 L526.6,569.8 L527.1,569.7 L527.6,569.6 L528.1,569.5 L528.6,569.3 L529.1,569.2 L529.6,569.1 L530.1,569.0 L530.6,568.8 L531.1,568.7 L531.6,568.6 L532.1,568.5 L532.6,568.3 L533.1,568.2 L533.6,568.1 L534.1,567.9 L534.6,567.8 L535.1,567.6 L535.6,567.5 L536.1,567.3 L536.6,567.2 L537.1,567.0 L537.6,566.9 L538.1,566.7 L538.6,566.6 L539.1,566.4 L539.6,566.3 L540.1,566.1 L540.6,565.9 L541.1,565.8 L541.6,565.6 L542.1,565.4 L542.6,565.2 L543.1,565.0 L543.6,564.9 L544.1,564.7 L544.6,564.5 L545.1,564.3 L545.6,564.1 L546.1,563.9 L546.6,563.7 L547.1,563.5 L547.6,563.3 L548.1,563.1 L548.6,562.9 L549.1,562.7 L549.6,562.5 L550.1,562.2 L550.6,562.0 L551.1,561.8 L551.6,561.6 L552.1,561.4 L552.6,561.1 L553.1,560.9 L553.6,560.7 L554.1,560.5 L554.6,560.3 L555.1,560.0 L555.6,559.8 L556.1,559.6 L556.6,559.3 L557.1,559.1 L557.6,558.9 L558.1,558.7 L558.6,558.4 L559.1,558.2 L559.6,558.0 L560.1,557.8 L560.6,557.5 L561.1,557.3 L561.6,557.1 L562.1,556.9 L562.6,556.6 L563.1,556.4 L563.6,556.2 L564.1,556.0 L564.6,555.8 L565.1,555.6 L565.6,555.4 L566.1,555.2 L566.6,555.0 L567.1,554.8 L567.6,554.6 L568.1,554.4 L568.6,554.2 L569.1,554.0 L569.6,553.9 L570.1,553.7 L570.6,553.5 L571.1,553.3 L571.6,553.2 L572.1,553.0 L572.6,552.9 L573.1,552.7 L573.6,552.6 L574.1,552.4 L574.6,552.3 L575.1,552.2 L575.6,552.1 L576.1,552.0 L576.6,551.8 L577.1,551.7 L577.6,551.6 L578.1,551.6 L578.6,551.5 L579.1,551.4 L579.6,551.3 L580.1,551.3 L580.6,551.2 L581.1,551.1 L581.6,551.1 L582.1,551.1 L582.6,551.0 L583.1,551.0 L583.6,551.0 L584.1,551.0 L584.6,551.0 L585.1,551.0 L585.6,551.0 L586.1,551.0 L586.6,551.0 L587.1,551.1 L587.6,551.1 L588.1,551.2 L588.6,551.2 L589.1,551.3 L589.6,551.4 L590.1,551.4 L590.6,551.5 L591.1,551.6 L591.6,551.7 L592.1,551.8 L592.6,552.0 L593.1,552.1 L593.6,552.2 L594.1,552.4 L594.6,552.5 L595.1,552.7 L595.6,552.8 L596.1,553.0 L596.6,553.2 L597.1,553.3 L597.6,553.5 L598.1,553.7 L598.6,553.9 L599.1,554.2 L599.6,554.4 L600.1,554.6 L600.6,554.8 L601.1,555.1 L601.6,555.3 L602.1,555.6 L602.6,555.8 L603.1,556.1 L603.6,556.4 L604.1,556.6 L604.6,556.9 L605.1,557.2 L605.6,557.5 L606.1,557.8 L606.6,558.1 L607.1,558.5 L607.6,558.8 L608.1,559.1 L608.6,559.4 L609.1,559.8 L609.6,560.1 L610.1,560.5 L610.6,560.8 L611.1,561.2 L611.6,561.5 L612.1,561.9 L612.6,562.3 L613.1,562.7 L613.6,563.0 L614.1,563.4 L614.6,563.8 L615.1,564.2 L615.6,564.6 L616.1,565.0 L616.6,565.4 L617.1,565.8 L617.6,566.2 L618.1,566.7 L618.6,567.1 L619.1,567.5 L619.6,567.9 L620.1,568.4 L620.6,568.8 L621.1,569.2 L621.6,569.7 L622.1,570.1 L622.6,570.6 L623.1,571.0 L623.6,571.5 L624.1,571.9 L624.6,572.4 L625.1,572.8 L625.6,573.3 L626.1,573.7 L626.6,574.2 L627.1,574.7 L627.6,575.1 L628.1,575.6 L628.6,576.1 L629.1,576.5 L629.6,577.0 L630.1,577.5 L630.6,577.9 L631.1,578.4 L631.6,578.9 L632.1,579.3 L632.6,579.8 L633.1,580.3 L633.6,580.8 L634.1,581.2 L634.6,581.7 L635.1,582.2 L635.6,582.7 L636.1,583.1 L636.6,583.6 L637.1,584.1 L637.6,584.5 L638.1,585.0 L638.6,585.5 L639.1,586.0 L639.6,586.4 L640.1,586.9 L640.6,587.4 L641.1,587.8 L641.6,588.3 L642.1,588.8 L642.6,589.2 L643.1,589.7 L643.6,590.2 L644.1,590.6 L644.6,591.1 L645.1,591.6 L645.6,592.0 L646.1,592.5 L646.6,592.9 L647.1,593.4 L647.6,593.8 L648.1,594.3 L648.6,594.7 L649.1,595.2 L649.6,595.6 L650.1,596.1 L650.6,596.5 L651.1,596.9 L651.6,597.4 L652.1,597.8 L652.6,598.2 L653.1,598.7 L653.6,599.1 L654.1,599.5 L654.6,599.9 L655.1,600.4 L655.6,600.8 L656.1,601.2 L656.6,601.6 L657.1,602.0 L657.6,602.4 L658.1,602.8 L658.6,603.2 L659.1,603.6 L659.6,604.0 L660.1,604.4 L660.6,604.8 L661.1,605.2 L661.6,605.5 L662.1,605.9 L662.6,606.3 L663.1,606.7 L663.6,607.0 L664.1,607.4 L664.6,607.8 L665.1,608.1 L665.6,608.5 L666.1,608.8 L666.6,609.2 L667.1,609.5 L667.6,609.9 L668.1,610.2 L668.6,610.6 L669.1,610.9 L669.6,611.2 L670.1,611.6 L670.6,611.9 L671.1,612.2 L671.6,612.5 L672.1,612.9 L672.6,613.2 L673.1,613.5 L673.6,613.8 L674.1,614.1 L674.6,614.4 L675.1,614.7 L675.6,615.0 L676.1,615.4 L676.6,615.7 L677.1,616.0 L677.6,616.3 L678.1,616.6 L678.6,616.8 L679.1,617.1 L679.6,617.4 L680.1,617.7 L680.6,618.0 L681.1,618.3 L681.6,618.6 L682.1,618.9 L682.6,619.1 L683.1,619.4 L683.6,619.7 L684.1,620.0 L684.6,620.3 L685.1,620.5 L685.6,620.8 L686.1,621.1 L686.6,621.3 L687.1,621.6 L687.6,621.9 L688.1,622.1 L688.6,622.4 L689.1,622.7 L689.6,622.9 L690.1,623.2 L690.6,623.4 L691.1,623.7 L691.6,624.0 L692.1,624.2 L692.6,624.5 L693.1,624.7 L693.6,625.0 L694.1,625.2 L694.6,625.5 L695.1,625.7 L695.6,625.9 L696.1,626.2 L696.6,626.4 L697.1,626.7 L697.6,626.9 L698.1,627.1 L698.6,627.4 L699.1,627.6 L699.6,627.8 L700.1,628.1 L700.6,628.3 L701.1,628.5 L701.6,628.7 L702.1,629.0 L702.6,629.2 L703.1,629.4 L703.6,629.6 L704.1,629.9 L704.6,630.1 L705.1,630.3 L705.6,630.5 L706.1,630.7 L706.6,630.9 L707.1,631.1 L707.6,631.3 L708.1,631.5 L708.6,631.8 L709.1,632.0 L709.6,632.2 L710.1,632.4 L710.6,632.6 L711.1,632.8 L711.6,632.9 L712.1,633.1 L712.6,633.3 L713.1,633.5 L713.6,633.7 L714.1,633.9 L714.6,634.1 L715.1,634.3 L715.6,634.5 L716.1,634.6 L716.6,634.8 L717.1,635.0 L717.6,635.2 L718.1,635.3 L718.6,635.5 L719.1,635.7 L719.6,635.9 L720.1,636.0 L720.6,636.2 L721.1,636.4 L721.6,636.5 L722.1,636.7 L722.6,636.8 L723.1,637.0 L723.6,637.2 L724.1,637.3 L724.6,637.5 L725.1,637.6 L725.6,637.8 L726.1,637.9 L726.6,638.1 L727.1,638.2 L727.6,638.4 L728.1,638.5 L728.6,638.6 L729.1,638.8 L729.6,638.9 L730.1,639.0 L730.6,639.2 L731.1,639.3 L731.6,639.4 L732.1,639.6 L732.6,639.7 L733.1,639.8 L733.6,639.9 L734.1,640.1 L734.6,640.2 L735.1,640.3 L735.6,640.4 L736.1,640.5 L736.6,640.6 L737.1,640.8 L737.6,640.9 L738.1,641.0 L738.6,641.1 L739.1,641.2 L739.6,641.3 L740.1,641.4 L740.6,641.5 L741.1,641.6 L741.6,641.7 L742.1,641.8 L742.6,641.9 L743.1,642.0 L743.6,642.1 L744.1,642.1 L744.6,642.2 L745.1,642.3 L745.6,642.4 L746.1,642.5 L746.6,642.6 L747.1,642.6 L747.6,642.7 L748.1,642.8 L748.6,642.9 L749.1,642.9 L749.6,643.0 L750.1,643.1 L750.6,643.2 L751.1,643.2 L751.6,643.3 L752.1,643.3 L752.6,643.4 L753.1,643.5 L753.6,643.5 L754.1,643.6 L754.6,643.6 L755.1,643.7 L755.6,643.8 L756.1,643.8 L756.6,643.9 L757.1,643.9 L757.6,644.0 L758.1,644.0 L758.6,644.1 L759.1,644.1 L759.6,644.1 L760.1,644.2 L760.6,644.2 L761.1,644.3 L761.6,644.3 L762.1,644.3 L762.6,644.4 L763.1,644.4 L763.6,644.4" fill="none" stroke="#ff00ff" stroke-width="3.1" stroke-linejoin="round" stroke-linecap="butt"/><path d="M179.9,280.2 L180.4,275.4 L180.9,270.7 L181.4,266.0 L181.9,261.3 L182.4,256.7 L182.9,252.2 L183.4,247.7 L183.9,243.3 L184.4,238.9 L184.9,234.6 L185.4,230.4 L185.9,226.3 L186.4,222.2 L186.9,218.2 L187.4,214.3 L187.9,210.5 L188.4,206.7 L188.9,203.1 L189.4,199.5 L189.9,196.1 L190.4,192.7 L190.9,189.5 L191.4,186.3 L191.9,183.2 L192.4,180.3 L192.9,177.4 L193.4,174.7 L193.9,172.0 L194.4,169.5 L194.9,167.1 L195.4,164.8 L195.9,162.6 L196.4,160.6 L196.9,158.6 L197.4,156.8 L197.9,155.1 L198.4,153.5 L198.9,152.0 L199.4,150.7 L199.9,149.4 L200.4,148.3 L200.9,147.3 L201.4,146.5 L201.9,145.7 L202.4,145.1 L202.9,144.6 L203.4,144.2 L203.9,143.9 L204.4,143.8 L204.9,143.8 L205.4,143.9 L205.9,144.1 L206.4,144.4 L206.9,144.8 L207.4,145.4 L207.9,146.0 L208.4,146.8 L208.9,147.7 L209.4,148.7 L209.9,149.7 L210.4,150.9 L210.9,152.2 L211.4,153.6 L211.9,155.1 L212.4,156.7 L212.9,158.4 L213.4,160.1 L213.9,162.0 L214.4,163.9 L214.9,165.9 L215.4,168.0 L215.9,170.2 L216.4,172.5 L216.9,174.8 L217.4,177.2 L217.9,179.6 L218.4,182.2 L218.9,184.7 L219.4,187.4 L219.9,190.1 L220.4,192.9 L220.9,195.7 L221.4,198.5 L221.9,201.4 L222.4,204.3 L222.9,207.3 L223.4,210.3 L223.9,213.4 L224.4,216.5 L224.9,219.6 L225.4,222.7 L225.9,225.8 L226.4,229.0 L226.9,232.2 L227.4,235.4 L227.9,238.6 L228.4,241.8 L228.9,245.0 L229.4,248.3 L229.9,251.5 L230.4,254.7 L230.9,257.9 L231.4,261.2 L231.9,264.4 L232.4,267.6 L232.9,270.7 L233.4,273.9 L233.9,277.0 L234.4,280.2 L234.9,283.3 L235.4,286.4 L235.9,289.4 L236.4,292.4 L236.9,295.4 L237.4,298.4 L237.9,301.4 L238.4,304.3 L238.9,307.1 L239.4,310.0 L239.9,312.8 L240.4,315.5 L240.9,318.2 L241.4,320.9 L241.9,323.6 L242.4,326.1 L242.9,328.7 L243.4,331.2 L243.9,333.7 L244.4,336.1 L244.9,338.5 L245.4,340.8 L245.9,343.1 L246.4,345.3 L246.9,347.5 L247.4,349.7 L247.9,351.8 L248.4,353.8 L248.9,355.8 L249.4,357.8 L249.9,359.7 L250.4,361.6 L250.9,363.5 L251.4,365.3 L251.9,367.0 L252.4,368.7 L252.9,370.4 L253.4,372.0 L253.9,373.6 L254.4,375.2 L254.9,376.7 L255.4,378.2 L255.9,379.6 L256.4,381.1 L256.9,382.5 L257.4,383.8 L257.9,385.2 L258.4,386.5 L258.9,387.7 L259.4,389.0 L259.9,390.2 L260.4,391.5 L260.9,392.7 L261.4,393.8 L261.9,395.0 L262.4,396.2 L262.9,397.3 L263.4,398.4 L263.9,399.6 L264.4,400.7 L264.9,401.8 L265.4,402.9 L265.9,404.0 L266.4,405.1 L266.9,406.2 L267.4,407.3 L267.9,408.4 L268.4,409.5 L268.9,410.7 L269.4,411.8 L269.9,413.0 L270.4,414.1 L270.9,415.3 L271.4,416.5 L271.9,417.7 L272.4,418.9 L272.9,420.1 L273.4,421.4 L273.9,422.7 L274.4,424.0 L274.9,425.3 L275.4,426.6 L275.9,428.0 L276.4,429.4 L276.9,430.8 L277.4,432.2 L277.9,433.6 L278.4,435.1 L278.9,436.6 L279.4,438.2 L279.9,439.7 L280.4,441.3 L280.9,442.9 L281.4,444.5 L281.9,446.2 L282.4,447.8 L282.9,449.5 L283.4,451.3 L283.9,453.0 L284.4,454.8 L284.9,456.6 L285.4,458.4 L285.9,460.2 L286.4,462.0 L286.9,463.9 L287.4,465.8 L287.9,467.7 L288.4,469.6 L288.9,471.5 L289.4,473.4 L289.9,475.4 L290.4,477.4 L290.9,479.3 L291.4,481.3 L291.9,483.3 L292.4,485.3 L292.9,487.3 L293.4,489.3 L293.9,491.3 L294.4,493.3 L294.9,495.3 L295.4,497.3 L295.9,499.3 L296.4,501.3 L296.9,503.3 L297.4,505.3 L297.9,507.3 L298.4,509.3 L298.9,511.3 L299.4,513.2 L299.9,515.2 L300.4,517.1 L300.9,519.0 L301.4,521.0 L301.9,522.9 L302.4,524.8 L302.9,526.6 L303.4,528.5 L303.9,530.3 L304.4,532.2 L304.9,534.0 L305.4,535.7 L305.9,537.5 L306.4,539.3 L306.9,541.0 L307.4,542.7 L307.9,544.4 L308.4,546.1 L308.9,547.7 L309.4,549.3 L309.9,550.9 L310.4,552.5 L310.9,554.1 L311.4,555.6 L311.9,557.1 L312.4,558.6 L312.9,560.1 L313.4,561.5 L313.9,562.9 L314.4,564.3 L314.9,565.7 L315.4,567.0 L315.9,568.4 L316.4,569.7 L316.9,570.9 L317.4,572.2 L317.9,573.4 L318.4,574.6 L318.9,575.8 L319.4,577.0 L319.9,578.1 L320.4,579.3 L320.9,580.4 L321.4,581.5 L321.9,582.5 L322.4,583.5 L322.9,584.6 L323.4,585.6 L323.9,586.5 L324.4,587.5 L324.9,588.4 L325.4,589.3 L325.9,590.2 L326.4,591.1 L326.9,592.0 L327.4,592.8 L327.9,593.6 L328.4,594.4 L328.9,595.2 L329.4,596.0 L329.9,596.7 L330.4,597.4 L330.9,598.2 L331.4,598.9 L331.9,599.5 L332.4,600.2 L332.9,600.8 L333.4,601.5 L333.9,602.1 L334.4,602.7 L334.9,603.3 L335.4,603.8 L335.9,604.4 L336.4,604.9 L336.9,605.4 L337.4,605.9 L337.9,606.4 L338.4,606.9 L338.9,607.4 L339.4,607.8 L339.9,608.2 L340.4,608.7 L340.9,609.1 L341.4,609.5 L341.9,609.8 L342.4,610.2 L342.9,610.6 L343.4,610.9 L343.9,611.2 L344.4,611.5 L344.9,611.8 L345.4,612.1 L345.9,612.4 L346.4,612.7 L346.9,612.9 L347.4,613.2 L347.9,613.4 L348.4,613.7 L348.9,613.9 L349.4,614.1 L349.9,614.3 L350.4,614.4 L350.9,614.6 L351.4,614.8 L351.9,614.9 L352.4,615.1 L352.9,615.2 L353.4,615.3 L353.9,615.5 L354.4,615.6 L354.9,615.7 L355.4,615.8 L355.9,615.8 L356.4,615.9 L356.9,616.0 L357.4,616.0 L357.9,616.1 L358.4,616.1 L358.9,616.2 L359.4,616.2 L359.9,616.2 L360.4,616.2 L360.9,616.2 L361.4,616.2 L361.9,616.2 L362.4,616.2 L362.9,616.2 L363.4,616.2 L363.9,616.2 L364.4,616.1 L364.9,616.1 L365.4,616.0 L365.9,616.0 L366.4,615.9 L366.9,615.9 L367.4,615.8 L367.9,615.8 L368.4,615.7 L368.9,615.6 L369.4,615.5 L369.9,615.4 L370.4,615.4 L370.9,615.3 L371.4,615.2 L371.9,615.1 L372.4,615.0 L372.9,614.9 L373.4,614.8 L373.9,614.7 L374.4,614.6 L374.9,614.5 L375.4,614.3 L375.9,614.2 L376.4,614.1 L376.9,614.0 L377.4,613.9 L377.9,613.8 L378.4,613.6 L378.9,613.5 L379.4,613.4 L379.9,613.3 L380.4,613.1 L380.9,613.0 L381.4,612.9 L381.9,612.8 L382.4,612.6 L382.9,612.5 L383.4,612.4 L383.9,612.2 L384.4,612.1 L384.9,612.0 L385.4,611.9 L385.9,611.7 L386.4,611.6 L386.9,611.5 L387.4,611.3 L387.9,611.2 L388.4,611.1 L388.9,611.0 L389.4,610.8 L389.9,610.7 L390.4,610.6 L390.9,610.5 L391.4,610.3 L391.9,610.2 L392.4,610.1 L392.9,610.0 L393.4,609.9 L393.9,609.7 L394.4,609.6 L394.9,609.5 L395.4,609.4 L395.9,609.3 L396.4,609.2 L396.9,609.1 L397.4,608.9 L397.9,608.8 L398.4,608.7 L398.9,608.6 L399.4,608.5 L399.9,608.4 L400.4,608.3 L400.9,608.2 L401.4,608.1 L401.9,608.0 L402.4,607.9 L402.9,607.8 L403.4,607.7 L403.9,607.6 L404.4,607.5 L404.9,607.4 L405.4,607.3 L405.9,607.2 L406.4,607.1 L406.9,607.0 L407.4,606.9 L407.9,606.8 L408.4,606.7 L408.9,606.6 L409.4,606.5 L409.9,606.5 L410.4,606.4 L410.9,606.3 L411.4,606.2 L411.9,606.1 L412.4,606.0 L412.9,605.9 L413.4,605.8 L413.9,605.7 L414.4,605.6 L414.9,605.6 L415.4,605.5 L415.9,605.4 L416.4,605.3 L416.9,605.2 L417.4,605.1 L417.9,605.0 L418.4,604.9 L418.9,604.8 L419.4,604.7 L419.9,604.6 L420.4,604.5 L420.9,604.4 L421.4,604.3 L421.9,604.2 L422.4,604.1 L422.9,604.0 L423.4,603.9 L423.9,603.8 L424.4,603.7 L424.9,603.6 L425.4,603.5 L425.9,603.3 L426.4,603.2 L426.9,603.1 L427.4,603.0 L427.9,602.9 L428.4,602.7 L428.9,602.6 L429.4,602.5 L429.9,602.4 L430.4,602.2 L430.9,602.1 L431.4,602.0 L431.9,601.8 L432.4,601.7 L432.9,601.6 L433.4,601.4 L433.9,601.3 L434.4,601.1 L434.9,601.0 L435.4,600.9 L435.9,600.7 L436.4,600.6 L436.9,600.4 L437.4,600.3 L437.9,600.1 L438.4,600.0 L438.9,599.8 L439.4,599.6 L439.9,599.5 L440.4,599.3 L440.9,599.2 L441.4,599.0 L441.9,598.8 L442.4,598.6 L442.9,598.5 L443.4,598.3 L443.9,598.1 L444.4,597.9 L444.9,597.7 L445.4,597.6 L445.9,597.4 L446.4,597.2 L446.9,597.0 L447.4,596.8 L447.9,596.6 L448.4,596.4 L448.9,596.2 L449.4,596.0 L449.9,595.8 L450.4,595.6 L450.9,595.4 L451.4,595.2 L451.9,595.0 L452.4,594.7 L452.9,594.5 L453.4,594.3 L453.9,594.1 L454.4,593.9 L454.9,593.7 L455.4,593.4 L455.9,593.2 L456.4,593.0 L456.9,592.8 L457.4,592.5 L457.9,592.3 L458.4,592.1 L458.9,591.8 L459.4,591.6 L459.9,591.4 L460.4,591.1 L460.9,590.9 L461.4,590.7 L461.9,590.4 L462.4,590.2 L462.9,589.9 L463.4,589.7 L463.9,589.5 L464.4,589.2 L464.9,589.0 L465.4,588.7 L465.9,588.5 L466.4,588.3 L466.9,588.0 L467.4,587.8 L467.9,587.5 L468.4,587.3 L468.9,587.1 L469.4,586.8 L469.9,586.6 L470.4,586.3 L470.9,586.1 L471.4,585.9 L471.9,585.6 L472.4,585.4 L472.9,585.1 L473.4,584.9 L473.9,584.7 L474.4,584.4 L474.9,584.2 L475.4,584.0 L475.9,583.7 L476.4,583.5 L476.9,583.3 L477.4,583.1 L477.9,582.8 L478.4,582.6 L478.9,582.4 L479.4,582.2 L479.9,582.0 L480.4,581.7 L480.9,581.5 L481.4,581.3 L481.9,581.1 L482.4,580.9 L482.9,580.7 L483.4,580.5 L483.9,580.3 L484.4,580.1 L484.9,579.9 L485.4,579.7 L485.9,579.5 L486.4,579.3 L486.9,579.1 L487.4,578.9 L487.9,578.7 L488.4,578.6 L488.9,578.4 L489.4,578.2 L489.9,578.0 L490.4,577.9 L490.9,577.7 L491.4,577.5 L491.9,577.4 L492.4,577.2 L492.9,577.1 L493.4,576.9 L493.9,576.8 L494.4,576.6 L494.9,576.5 L495.4,576.3 L495.9,576.2 L496.4,576.1 L496.9,575.9 L497.4,575.8 L497.9,575.7 L498.4,575.6 L498.9,575.5 L499.4,575.3 L499.9,575.2 L500.4,575.1 L500.9,575.0 L501.4,574.9 L501.9,574.8 L502.4,574.8 L502.9,574.7 L503.4,574.6 L503.9,574.5 L504.4,574.4 L504.9,574.3 L505.4,574.3 L505.9,574.2 L506.4,574.2 L506.9,574.1 L507.4,574.0 L507.9,574.0 L508.4,573.9 L508.9,573.9 L509.4,573.9 L509.9,573.8 L510.4,573.8 L510.9,573.7 L511.4,573.7 L511.9,573.7 L512.4,573.7 L512.9,573.7 L513.4,573.7 L513.9,573.6 L514.4,573.6 L514.9,573.6 L515.4,573.6 L515.9,573.6 L516.4,573.6 L516.9,573.7 L517.4,573.7 L517.9,573.7 L518.4,573.7 L518.9,573.7 L519.4,573.8 L519.9,573.8 L520.4,573.8 L520.9,573.9 L521.4,573.9 L521.9,573.9 L522.4,574.0 L522.9,574.0 L523.4,574.1 L523.9,574.1 L524.4,574.2 L524.9,574.3 L525.4,574.3 L525.9,574.4 L526.4,574.5 L526.9,574.5 L527.4,574.6 L527.9,574.7 L528.4,574.8 L528.9,574.8 L529.4,574.9 L529.9,575.0 L530.4,575.1 L530.9,575.2 L531.4,575.3 L531.9,575.4 L532.4,575.5 L532.9,575.6 L533.4,575.7 L533.9,575.8 L534.4,575.9 L534.9,576.0 L535.4,576.1 L535.9,576.2 L536.4,576.3 L536.9,576.5 L537.4,576.6 L537.9,576.7 L538.4,576.8 L538.9,576.9 L539.4,577.1 L539.9,577.2 L540.4,577.3 L540.9,577.4 L541.4,577.6 L541.9,577.7 L542.4,577.8 L542.9,578.0 L543.4,578.1 L543.9,578.3 L544.4,578.4 L544.9,578.5 L545.4,578.7 L545.9,578.8 L546.4,579.0 L546.9,579.1 L547.4,579.2 L547.9,579.4 L548.4,579.5 L548.9,579.7 L549.4,579.8 L549.9,580.0 L550.4,580.1 L550.9,580.3 L551.4,580.4 L551.9,580.6 L552.4,580.7 L552.9,580.9 L553.4,581.0 L553.9,581.2 L554.4,581.4 L554.9,581.5 L555.4,581.7 L555.9,581.8 L556.4,582.0 L556.9,582.1 L557.4,582.3 L557.9,582.4 L558.4,582.6 L558.9,582.8 L559.4,582.9 L559.9,583.1 L560.4,583.2 L560.9,583.4 L561.4,583.5 L561.9,583.7 L562.4,583.9 L562.9,584.0 L563.4,584.2 L563.9,584.3 L564.4,584.5 L564.9,584.7 L565.4,584.8 L565.9,585.0 L566.4,585.1 L566.9,585.3 L567.4,585.4 L567.9,585.6 L568.4,585.8 L568.9,585.9 L569.4,586.1 L569.9,586.2 L570.4,586.4 L570.9,586.6 L571.4,586.7 L571.9,586.9 L572.4,587.0 L572.9,587.2 L573.4,587.3 L573.9,587.5 L574.4,587.7 L574.9,587.8 L575.4,588.0 L575.9,588.1 L576.4,588.3 L576.9,588.4 L577.4,588.6 L577.9,588.7 L578.4,588.9 L578.9,589.1 L579.4,589.2 L579.9,589.4 L580.4,589.5 L580.9,589.7 L581.4,589.8 L581.9,590.0 L582.4,590.2 L582.9,590.3 L583.4,590.5 L583.9,590.6 L584.4,590.8 L584.9,590.9 L585.4,591.1 L585.9,591.3 L586.4,591.4 L586.9,591.6 L587.4,591.7 L587.9,591.9 L588.4,592.0 L588.9,592.2 L589.4,592.4 L589.9,592.5 L590.4,592.7 L590.9,592.8 L591.4,593.0 L591.9,593.2 L592.4,593.3 L592.9,593.5 L593.4,593.7 L593.9,593.8 L594.4,594.0 L594.9,594.2 L595.4,594.3 L595.9,594.5 L596.4,594.7 L596.9,594.8 L597.4,595.0 L597.9,595.2 L598.4,595.3 L598.9,595.5 L599.4,595.7 L599.9,595.8 L600.4,596.0 L600.9,596.2 L601.4,596.4 L601.9,596.5 L602.4,596.7 L602.9,596.9 L603.4,597.1 L603.9,597.2 L604.4,597.4 L604.9,597.6 L605.4,597.8 L605.9,598.0 L606.4,598.2 L606.9,598.3 L607.4,598.5 L607.9,598.7 L608.4,598.9 L608.9,599.1 L609.4,599.3 L609.9,599.5 L610.4,599.7 L610.9,599.9 L611.4,600.1 L611.9,600.3 L612.4,600.5 L612.9,600.7 L613.4,600.9 L613.9,601.1 L614.4,601.3 L614.9,601.5 L615.4,601.7 L615.9,601.9 L616.4,602.1 L616.9,602.3 L617.4,602.5 L617.9,602.7 L618.4,602.9 L618.9,603.1 L619.4,603.4 L619.9,603.6 L620.4,603.8 L620.9,604.0 L621.4,604.2 L621.9,604.5 L622.4,604.7 L622.9,604.9 L623.4,605.1 L623.9,605.4 L624.4,605.6 L624.9,605.8 L625.4,606.0 L625.9,606.3 L626.4,606.5 L626.9,606.7 L627.4,607.0 L627.9,607.2 L628.4,607.5 L628.9,607.7 L629.4,607.9 L629.9,608.2 L630.4,608.4 L630.9,608.7 L631.4,608.9 L631.9,609.2 L632.4,609.4 L632.9,609.7 L633.4,609.9 L633.9,610.2 L634.4,610.4 L634.9,610.7 L635.4,610.9 L635.9,611.2 L636.4,611.4 L636.9,611.7 L637.4,611.9 L637.9,612.2 L638.4,612.4 L638.9,612.7 L639.4,613.0 L639.9,613.2 L640.4,613.5 L640.9,613.7 L641.4,614.0 L641.9,614.3 L642.4,614.5 L642.9,614.8 L643.4,615.1 L643.9,615.3 L644.4,615.6 L644.9,615.9 L645.4,616.1 L645.9,616.4 L646.4,616.7 L646.9,616.9 L647.4,617.2 L647.9,617.4 L648.4,617.7 L648.9,618.0 L649.4,618.3 L649.9,618.5 L650.4,618.8 L650.9,619.1 L651.4,619.3 L651.9,619.6 L652.4,619.9 L652.9,620.1 L653.4,620.4 L653.9,620.7 L654.4,620.9 L654.9,621.2 L655.4,621.4 L655.9,621.7 L656.4,622.0 L656.9,622.2 L657.4,622.5 L657.9,622.8 L658.4,623.0 L658.9,623.3 L659.4,623.6 L659.9,623.8 L660.4,624.1 L660.9,624.3 L661.4,624.6 L661.9,624.8 L662.4,625.1 L662.9,625.4 L663.4,625.6 L663.9,625.9 L664.4,626.1 L664.9,626.4 L665.4,626.6 L665.9,626.9 L666.4,627.1 L666.9,627.4 L667.4,627.6 L667.9,627.9 L668.4,628.1 L668.9,628.4 L669.4,628.6 L669.9,628.8 L670.4,629.1 L670.9,629.3 L671.4,629.6 L671.9,629.8 L672.4,630.0 L672.9,630.3 L673.4,630.5 L673.9,630.7 L674.4,630.9 L674.9,631.2 L675.4,631.4 L675.9,631.6 L676.4,631.8 L676.9,632.1 L677.4,632.3 L677.9,632.5 L678.4,632.7 L678.9,632.9 L679.4,633.2 L679.9,633.4 L680.4,633.6 L680.9,633.8 L681.4,634.0 L681.9,634.2 L682.4,634.4 L682.9,634.6 L683.4,634.8 L683.9,635.0 L684.4,635.2 L684.9,635.4 L685.4,635.6 L685.9,635.8 L686.4,636.0 L686.9,636.1 L687.4,636.3 L687.9,636.5 L688.4,636.7 L688.9,636.9 L689.4,637.0 L689.9,637.2 L690.4,637.4 L690.9,637.6 L691.4,637.7 L691.9,637.9 L692.4,638.1 L692.9,638.2 L693.4,638.4 L693.9,638.6 L694.4,638.7 L694.9,638.9 L695.4,639.0 L695.9,639.2 L696.4,639.3 L696.9,639.5 L697.4,639.6 L697.9,639.8 L698.4,639.9 L698.9,640.1 L699.4,640.2 L699.9,640.4 L700.4,640.5 L700.9,640.6 L701.4,640.8 L701.9,640.9 L702.4,641.0 L702.9,641.1 L703.4,641.3 L703.9,641.4 L704.4,641.5 L704.9,641.6 L705.4,641.8 L705.9,641.9 L706.4,642.0 L706.9,642.1 L707.4,642.2 L707.9,642.3 L708.4,642.4 L708.9,642.6 L709.4,642.7 L709.9,642.8 L710.4,642.9 L710.9,643.0 L711.4,643.1 L711.9,643.2 L712.4,643.3 L712.9,643.4 L713.4,643.4 L713.9,643.5 L714.4,643.6 L714.9,643.7 L715.4,643.8 L715.9,643.9 L716.4,644.0 L716.9,644.1 L717.4,644.1 L717.9,644.2 L718.4,644.3 L718.9,644.4 L719.4,644.4 L719.9,644.5 L720.4,644.6 L720.9,644.7 L721.4,644.7 L721.9,644.8 L722.4,644.9 L722.9,644.9 L723.4,645.0 L723.9,645.1 L724.4,645.1 L724.9,645.2 L725.4,645.3 L725.9,645.3 L726.4,645.4 L726.9,645.4 L727.4,645.5 L727.9,645.5 L728.4,645.6 L728.9,645.6 L729.4,645.7 L729.9,645.7 L730.4,645.8 L730.9,645.8 L731.4,645.9 L731.9,645.9 L732.4,646.0 L732.9,646.0 L733.4,646.1 L733.9,646.1 L734.4,646.2 L734.9,646.2 L735.4,646.2 L735.9,646.3 L736.4,646.3 L736.9,646.3 L737.4,646.4 L737.9,646.4 L738.4,646.5 L738.9,646.5 L739.4,646.5 L739.9,646.6 L740.4,646.6 L740.9,646.6 L741.4,646.6 L741.9,646.7 L742.4,646.7 L742.9,646.7 L743.4,646.8 L743.9,646.8 L744.4,646.8 L744.9,646.8 L745.4,646.9 L745.9,646.9 L746.4,646.9 L746.9,646.9 L747.4,647.0 L747.9,647.0 L748.4,647.0 L748.9,647.0 L749.4,647.0 L749.9,647.1 L750.4,647.1 L750.9,647.1 L751.4,647.1 L751.9,647.1 L752.4,647.2 L752.9,647.2 L753.4,647.2 L753.9,647.2 L754.4,647.2 L754.9,647.2 L755.4,647.3 L755.9,647.3 L756.4,647.3 L756.9,647.3 L757.4,647.3 L757.9,647.3 L758.4,647.3 L758.9,647.3 L759.4,647.4 L759.9,647.4 L760.4,647.4 L760.9,647.4 L761.4,647.4 L761.9,647.4 L762.4,647.4 L762.9,647.4 L763.4,647.4" fill="none" stroke="#808000" stroke-width="3.1" stroke-linejoin="round" stroke-linecap="butt"/>
<line x1="854" y1="19.6" x2="921" y2="19.6" stroke="#000000" stroke-width="3"/><text transform="translate(929,29.8) scale(0.95,1.03)" class="lg">1 d</text><line x1="854" y1="55.2" x2="921" y2="55.2" stroke="#ff0000" stroke-width="3"/><text transform="translate(929,65.4) scale(0.95,1.03)" class="lg">3 d</text><line x1="854" y1="90.7" x2="921" y2="90.7" stroke="#0000ff" stroke-width="3"/><text transform="translate(929,100.9) scale(0.95,1.03)" class="lg">5 d</text><line x1="854" y1="126.3" x2="921" y2="126.3" stroke="#008080" stroke-width="3"/><text transform="translate(929,136.5) scale(0.95,1.03)" class="lg">10 d</text><line x1="854" y1="161.8" x2="921" y2="161.8" stroke="#ff00ff" stroke-width="3"/><text transform="translate(929,172.0) scale(0.95,1.03)" class="lg">15 d</text><line x1="854" y1="197.4" x2="921" y2="197.4" stroke="#808000" stroke-width="3"/><text transform="translate(929,207.6) scale(0.95,1.03)" class="lg">20 d</text>
<line x1="377" y1="150.4" x2="339.4" y2="208.3" stroke="#4472c4" stroke-width="4.6"/><polygon points="333,218.2 334.1,203.7 345.8,211.3" fill="#4472c4"/><line x1="439.3" y1="348" x2="401.4" y2="406.6" stroke="#4472c4" stroke-width="4.6"/><polygon points="395,416.5 396.1,402.0 407.8,409.6" fill="#4472c4"/><line x1="642.9" y1="461.5" x2="605.4" y2="519.7" stroke="#4472c4" stroke-width="4.6"/><polygon points="599,529.6 600.1,515.0 611.8,522.6" fill="#4472c4"/>
<text x="391.4" y="130.3" class="pk">Peak 1</text><text x="454.2" y="333.9" class="pk">Peak 2</text><text x="653.8" y="438.6" class="pk">Peak 3</text>
<text transform="translate(427.2,768.7) scale(0.97,1)" class="tt">lgMw</text><text transform="translate(34.3,501.9) rotate(-90)" x="0" y="0" class="yt">Mw Homogenization</text>
</svg>
</body></html>
